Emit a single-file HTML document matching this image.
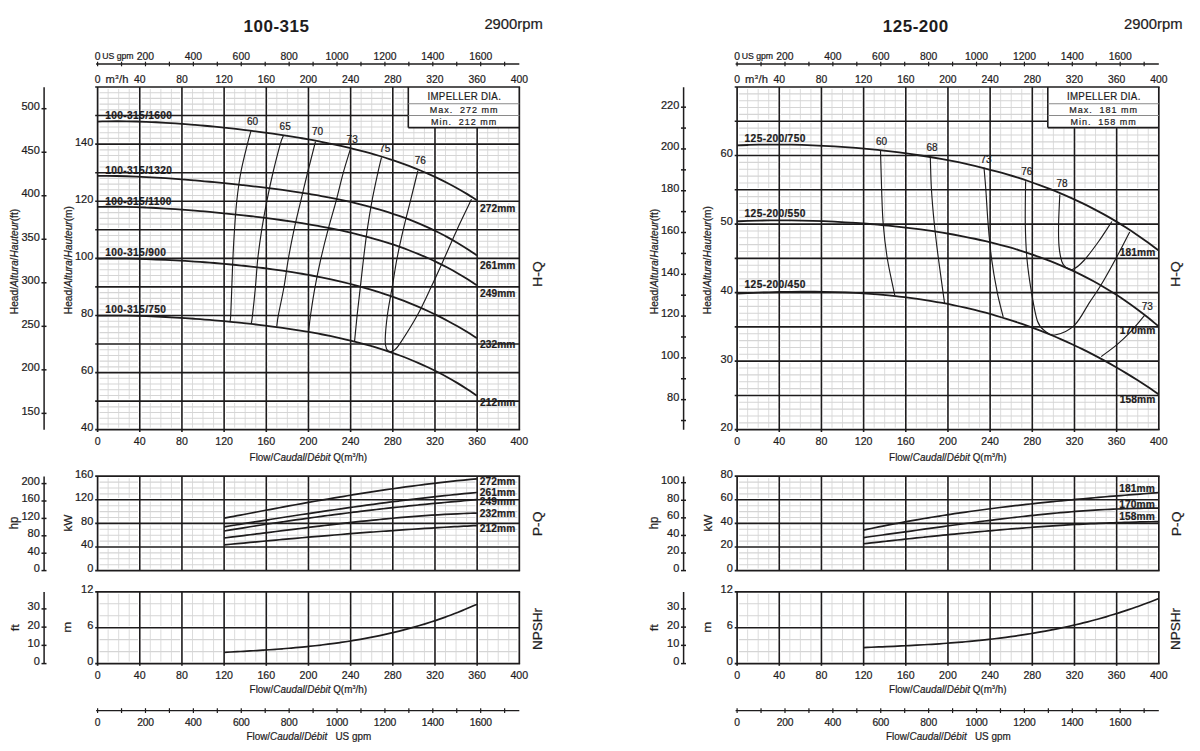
<!DOCTYPE html>
<html><head><meta charset="utf-8"><title>Pump curves</title>
<style>
html,body{margin:0;padding:0;background:#fff;}
body{width:1200px;height:751px;overflow:hidden;}
svg{display:block;}
text{font-family:"Liberation Sans", sans-serif;fill:#1e1c1d;stroke:#1e1c1d;stroke-width:0.22px;}
</style></head><body>
<svg width="1200" height="751" viewBox="0 0 1200 751">
<rect width="1200" height="751" fill="#fff"/>
<text x="243.6" y="32.2" font-size="17.0" text-anchor="start" font-weight="bold" letter-spacing="0.5" style="stroke-width:0">100-315</text>
<text x="484.4" y="29.4" font-size="14.8" text-anchor="start" font-weight="normal" >2900rpm</text>
<line x1="96.1" y1="64" x2="519.32" y2="64" stroke="#1e1c1d" stroke-width="1.4"/>
<line x1="97.6" y1="61.7" x2="97.6" y2="66.3" stroke="#1e1c1d" stroke-width="1.2"/>
<line x1="121.54" y1="61.7" x2="121.54" y2="66.3" stroke="#1e1c1d" stroke-width="1.2"/>
<line x1="145.49" y1="61.7" x2="145.49" y2="66.3" stroke="#1e1c1d" stroke-width="1.2"/>
<line x1="169.43" y1="61.7" x2="169.43" y2="66.3" stroke="#1e1c1d" stroke-width="1.2"/>
<line x1="193.37" y1="61.7" x2="193.37" y2="66.3" stroke="#1e1c1d" stroke-width="1.2"/>
<line x1="217.32" y1="61.7" x2="217.32" y2="66.3" stroke="#1e1c1d" stroke-width="1.2"/>
<line x1="241.26" y1="61.7" x2="241.26" y2="66.3" stroke="#1e1c1d" stroke-width="1.2"/>
<line x1="265.2" y1="61.7" x2="265.2" y2="66.3" stroke="#1e1c1d" stroke-width="1.2"/>
<line x1="289.15" y1="61.7" x2="289.15" y2="66.3" stroke="#1e1c1d" stroke-width="1.2"/>
<line x1="313.09" y1="61.7" x2="313.09" y2="66.3" stroke="#1e1c1d" stroke-width="1.2"/>
<line x1="337.03" y1="61.7" x2="337.03" y2="66.3" stroke="#1e1c1d" stroke-width="1.2"/>
<line x1="360.98" y1="61.7" x2="360.98" y2="66.3" stroke="#1e1c1d" stroke-width="1.2"/>
<line x1="384.92" y1="61.7" x2="384.92" y2="66.3" stroke="#1e1c1d" stroke-width="1.2"/>
<line x1="408.86" y1="61.7" x2="408.86" y2="66.3" stroke="#1e1c1d" stroke-width="1.2"/>
<line x1="432.81" y1="61.7" x2="432.81" y2="66.3" stroke="#1e1c1d" stroke-width="1.2"/>
<line x1="456.75" y1="61.7" x2="456.75" y2="66.3" stroke="#1e1c1d" stroke-width="1.2"/>
<line x1="480.69" y1="61.7" x2="480.69" y2="66.3" stroke="#1e1c1d" stroke-width="1.2"/>
<line x1="504.64" y1="61.7" x2="504.64" y2="66.3" stroke="#1e1c1d" stroke-width="1.2"/>
<text x="0" y="0" transform="translate(145.49,59.8) scale(0.96,1)" font-size="10.8" text-anchor="middle" font-weight="normal" >200</text>
<text x="0" y="0" transform="translate(193.37,59.8) scale(0.96,1)" font-size="10.8" text-anchor="middle" font-weight="normal" >400</text>
<text x="0" y="0" transform="translate(241.26,59.8) scale(0.96,1)" font-size="10.8" text-anchor="middle" font-weight="normal" >600</text>
<text x="0" y="0" transform="translate(289.15,59.8) scale(0.96,1)" font-size="10.8" text-anchor="middle" font-weight="normal" >800</text>
<text x="0" y="0" transform="translate(337.03,59.8) scale(0.96,1)" font-size="10.8" text-anchor="middle" font-weight="normal" >1000</text>
<text x="0" y="0" transform="translate(384.92,59.8) scale(0.96,1)" font-size="10.8" text-anchor="middle" font-weight="normal" >1200</text>
<text x="0" y="0" transform="translate(432.81,59.8) scale(0.96,1)" font-size="10.8" text-anchor="middle" font-weight="normal" >1400</text>
<text x="0" y="0" transform="translate(480.69,59.8) scale(0.96,1)" font-size="10.8" text-anchor="middle" font-weight="normal" >1600</text>
<text x="0" y="0" transform="translate(94.7,59.8) scale(0.96,1)" font-size="10.8" text-anchor="start" font-weight="normal" >0</text>
<text x="102.2" y="58.9" font-size="8.7" text-anchor="start" font-weight="normal" >US gpm</text>
<text x="0" y="0" transform="translate(94.7,83.2) scale(0.96,1)" font-size="10.8" text-anchor="start" font-weight="normal" >0</text>
<text x="105.4" y="83.2" font-size="11.2" text-anchor="start" font-weight="normal" >m<tspan font-size="6" dy="-4.5" dx="0.6">3</tspan><tspan dy="4.5" dx="0.4">/h</tspan></text>
<text x="0" y="0" transform="translate(139.77,83.2) scale(0.96,1)" font-size="10.8" text-anchor="middle" font-weight="normal" >40</text>
<text x="0" y="0" transform="translate(181.94,83.2) scale(0.96,1)" font-size="10.8" text-anchor="middle" font-weight="normal" >80</text>
<text x="0" y="0" transform="translate(224.12,83.2) scale(0.96,1)" font-size="10.8" text-anchor="middle" font-weight="normal" >120</text>
<text x="0" y="0" transform="translate(266.29,83.2) scale(0.96,1)" font-size="10.8" text-anchor="middle" font-weight="normal" >160</text>
<text x="0" y="0" transform="translate(308.46,83.2) scale(0.96,1)" font-size="10.8" text-anchor="middle" font-weight="normal" >200</text>
<text x="0" y="0" transform="translate(350.63,83.2) scale(0.96,1)" font-size="10.8" text-anchor="middle" font-weight="normal" >240</text>
<text x="0" y="0" transform="translate(392.8,83.2) scale(0.96,1)" font-size="10.8" text-anchor="middle" font-weight="normal" >280</text>
<text x="0" y="0" transform="translate(434.98,83.2) scale(0.96,1)" font-size="10.8" text-anchor="middle" font-weight="normal" >320</text>
<text x="0" y="0" transform="translate(477.15,83.2) scale(0.96,1)" font-size="10.8" text-anchor="middle" font-weight="normal" >360</text>
<text x="0" y="0" transform="translate(519.32,83.2) scale(0.96,1)" font-size="10.8" text-anchor="middle" font-weight="normal" >400</text>
<line x1="108.14" y1="89" x2="108.14" y2="427.7" stroke="#dcdcdc" stroke-width="1"/>
<line x1="118.69" y1="89" x2="118.69" y2="427.7" stroke="#dcdcdc" stroke-width="1"/>
<line x1="129.23" y1="89" x2="129.23" y2="427.7" stroke="#dcdcdc" stroke-width="1"/>
<line x1="150.31" y1="89" x2="150.31" y2="427.7" stroke="#dcdcdc" stroke-width="1"/>
<line x1="160.86" y1="89" x2="160.86" y2="427.7" stroke="#dcdcdc" stroke-width="1"/>
<line x1="171.4" y1="89" x2="171.4" y2="427.7" stroke="#dcdcdc" stroke-width="1"/>
<line x1="192.49" y1="89" x2="192.49" y2="427.7" stroke="#dcdcdc" stroke-width="1"/>
<line x1="203.03" y1="89" x2="203.03" y2="427.7" stroke="#dcdcdc" stroke-width="1"/>
<line x1="213.57" y1="89" x2="213.57" y2="427.7" stroke="#dcdcdc" stroke-width="1"/>
<line x1="234.66" y1="89" x2="234.66" y2="427.7" stroke="#dcdcdc" stroke-width="1"/>
<line x1="245.2" y1="89" x2="245.2" y2="427.7" stroke="#dcdcdc" stroke-width="1"/>
<line x1="255.75" y1="89" x2="255.75" y2="427.7" stroke="#dcdcdc" stroke-width="1"/>
<line x1="276.83" y1="89" x2="276.83" y2="427.7" stroke="#dcdcdc" stroke-width="1"/>
<line x1="287.37" y1="89" x2="287.37" y2="427.7" stroke="#dcdcdc" stroke-width="1"/>
<line x1="297.92" y1="89" x2="297.92" y2="427.7" stroke="#dcdcdc" stroke-width="1"/>
<line x1="319" y1="89" x2="319" y2="427.7" stroke="#dcdcdc" stroke-width="1"/>
<line x1="329.55" y1="89" x2="329.55" y2="427.7" stroke="#dcdcdc" stroke-width="1"/>
<line x1="340.09" y1="89" x2="340.09" y2="427.7" stroke="#dcdcdc" stroke-width="1"/>
<line x1="361.17" y1="89" x2="361.17" y2="427.7" stroke="#dcdcdc" stroke-width="1"/>
<line x1="371.72" y1="89" x2="371.72" y2="427.7" stroke="#dcdcdc" stroke-width="1"/>
<line x1="382.26" y1="89" x2="382.26" y2="427.7" stroke="#dcdcdc" stroke-width="1"/>
<line x1="403.35" y1="89" x2="403.35" y2="427.7" stroke="#dcdcdc" stroke-width="1"/>
<line x1="413.89" y1="89" x2="413.89" y2="427.7" stroke="#dcdcdc" stroke-width="1"/>
<line x1="424.43" y1="89" x2="424.43" y2="427.7" stroke="#dcdcdc" stroke-width="1"/>
<line x1="445.52" y1="89" x2="445.52" y2="427.7" stroke="#dcdcdc" stroke-width="1"/>
<line x1="456.06" y1="89" x2="456.06" y2="427.7" stroke="#dcdcdc" stroke-width="1"/>
<line x1="466.61" y1="89" x2="466.61" y2="427.7" stroke="#dcdcdc" stroke-width="1"/>
<line x1="487.69" y1="89" x2="487.69" y2="427.7" stroke="#dcdcdc" stroke-width="1"/>
<line x1="498.23" y1="89" x2="498.23" y2="427.7" stroke="#dcdcdc" stroke-width="1"/>
<line x1="508.78" y1="89" x2="508.78" y2="427.7" stroke="#dcdcdc" stroke-width="1"/>
<line x1="99.6" y1="423.99" x2="517.32" y2="423.99" stroke="#d5d5d5" stroke-width="1.1"/>
<line x1="99.6" y1="418.28" x2="517.32" y2="418.28" stroke="#d5d5d5" stroke-width="1.1"/>
<line x1="99.6" y1="412.56" x2="517.32" y2="412.56" stroke="#d5d5d5" stroke-width="1.1"/>
<line x1="99.6" y1="406.85" x2="517.32" y2="406.85" stroke="#d5d5d5" stroke-width="1.1"/>
<line x1="99.6" y1="395.43" x2="517.32" y2="395.43" stroke="#d5d5d5" stroke-width="1.1"/>
<line x1="99.6" y1="389.72" x2="517.32" y2="389.72" stroke="#d5d5d5" stroke-width="1.1"/>
<line x1="99.6" y1="384.01" x2="517.32" y2="384.01" stroke="#d5d5d5" stroke-width="1.1"/>
<line x1="99.6" y1="378.3" x2="517.32" y2="378.3" stroke="#d5d5d5" stroke-width="1.1"/>
<line x1="99.6" y1="366.87" x2="517.32" y2="366.87" stroke="#d5d5d5" stroke-width="1.1"/>
<line x1="99.6" y1="361.16" x2="517.32" y2="361.16" stroke="#d5d5d5" stroke-width="1.1"/>
<line x1="99.6" y1="355.45" x2="517.32" y2="355.45" stroke="#d5d5d5" stroke-width="1.1"/>
<line x1="99.6" y1="349.74" x2="517.32" y2="349.74" stroke="#d5d5d5" stroke-width="1.1"/>
<line x1="99.6" y1="338.31" x2="517.32" y2="338.31" stroke="#d5d5d5" stroke-width="1.1"/>
<line x1="99.6" y1="332.6" x2="517.32" y2="332.6" stroke="#d5d5d5" stroke-width="1.1"/>
<line x1="99.6" y1="326.89" x2="517.32" y2="326.89" stroke="#d5d5d5" stroke-width="1.1"/>
<line x1="99.6" y1="321.18" x2="517.32" y2="321.18" stroke="#d5d5d5" stroke-width="1.1"/>
<line x1="99.6" y1="309.75" x2="517.32" y2="309.75" stroke="#d5d5d5" stroke-width="1.1"/>
<line x1="99.6" y1="304.04" x2="517.32" y2="304.04" stroke="#d5d5d5" stroke-width="1.1"/>
<line x1="99.6" y1="298.33" x2="517.32" y2="298.33" stroke="#d5d5d5" stroke-width="1.1"/>
<line x1="99.6" y1="292.62" x2="517.32" y2="292.62" stroke="#d5d5d5" stroke-width="1.1"/>
<line x1="99.6" y1="281.2" x2="517.32" y2="281.2" stroke="#d5d5d5" stroke-width="1.1"/>
<line x1="99.6" y1="275.49" x2="517.32" y2="275.49" stroke="#d5d5d5" stroke-width="1.1"/>
<line x1="99.6" y1="269.77" x2="517.32" y2="269.77" stroke="#d5d5d5" stroke-width="1.1"/>
<line x1="99.6" y1="264.06" x2="517.32" y2="264.06" stroke="#d5d5d5" stroke-width="1.1"/>
<line x1="99.6" y1="252.64" x2="517.32" y2="252.64" stroke="#d5d5d5" stroke-width="1.1"/>
<line x1="99.6" y1="246.93" x2="517.32" y2="246.93" stroke="#d5d5d5" stroke-width="1.1"/>
<line x1="99.6" y1="241.22" x2="517.32" y2="241.22" stroke="#d5d5d5" stroke-width="1.1"/>
<line x1="99.6" y1="235.5" x2="517.32" y2="235.5" stroke="#d5d5d5" stroke-width="1.1"/>
<line x1="99.6" y1="224.08" x2="517.32" y2="224.08" stroke="#d5d5d5" stroke-width="1.1"/>
<line x1="99.6" y1="218.37" x2="517.32" y2="218.37" stroke="#d5d5d5" stroke-width="1.1"/>
<line x1="99.6" y1="212.66" x2="517.32" y2="212.66" stroke="#d5d5d5" stroke-width="1.1"/>
<line x1="99.6" y1="206.94" x2="517.32" y2="206.94" stroke="#d5d5d5" stroke-width="1.1"/>
<line x1="99.6" y1="195.52" x2="517.32" y2="195.52" stroke="#d5d5d5" stroke-width="1.1"/>
<line x1="99.6" y1="189.81" x2="517.32" y2="189.81" stroke="#d5d5d5" stroke-width="1.1"/>
<line x1="99.6" y1="184.1" x2="517.32" y2="184.1" stroke="#d5d5d5" stroke-width="1.1"/>
<line x1="99.6" y1="178.39" x2="517.32" y2="178.39" stroke="#d5d5d5" stroke-width="1.1"/>
<line x1="99.6" y1="166.96" x2="517.32" y2="166.96" stroke="#d5d5d5" stroke-width="1.1"/>
<line x1="99.6" y1="161.25" x2="517.32" y2="161.25" stroke="#d5d5d5" stroke-width="1.1"/>
<line x1="99.6" y1="155.54" x2="517.32" y2="155.54" stroke="#d5d5d5" stroke-width="1.1"/>
<line x1="99.6" y1="149.83" x2="517.32" y2="149.83" stroke="#d5d5d5" stroke-width="1.1"/>
<line x1="99.6" y1="138.41" x2="517.32" y2="138.41" stroke="#d5d5d5" stroke-width="1.1"/>
<line x1="99.6" y1="132.69" x2="517.32" y2="132.69" stroke="#d5d5d5" stroke-width="1.1"/>
<line x1="99.6" y1="126.98" x2="517.32" y2="126.98" stroke="#d5d5d5" stroke-width="1.1"/>
<line x1="99.6" y1="121.27" x2="517.32" y2="121.27" stroke="#d5d5d5" stroke-width="1.1"/>
<line x1="99.6" y1="109.85" x2="517.32" y2="109.85" stroke="#d5d5d5" stroke-width="1.1"/>
<line x1="99.6" y1="104.14" x2="517.32" y2="104.14" stroke="#d5d5d5" stroke-width="1.1"/>
<line x1="99.6" y1="98.42" x2="517.32" y2="98.42" stroke="#d5d5d5" stroke-width="1.1"/>
<line x1="99.6" y1="92.71" x2="517.32" y2="92.71" stroke="#d5d5d5" stroke-width="1.1"/>
<line x1="139.77" y1="87" x2="139.77" y2="429.7" stroke="#fff" stroke-width="3.6"/>
<line x1="181.94" y1="87" x2="181.94" y2="429.7" stroke="#fff" stroke-width="3.6"/>
<line x1="224.12" y1="87" x2="224.12" y2="429.7" stroke="#fff" stroke-width="3.6"/>
<line x1="266.29" y1="87" x2="266.29" y2="429.7" stroke="#fff" stroke-width="3.6"/>
<line x1="308.46" y1="87" x2="308.46" y2="429.7" stroke="#fff" stroke-width="3.6"/>
<line x1="350.63" y1="87" x2="350.63" y2="429.7" stroke="#fff" stroke-width="3.6"/>
<line x1="392.8" y1="87" x2="392.8" y2="429.7" stroke="#fff" stroke-width="3.6"/>
<line x1="434.98" y1="87" x2="434.98" y2="429.7" stroke="#fff" stroke-width="3.6"/>
<line x1="477.15" y1="87" x2="477.15" y2="429.7" stroke="#fff" stroke-width="3.6"/>
<line x1="97.6" y1="401.14" x2="519.32" y2="401.14" stroke="#fff" stroke-width="3.6"/>
<line x1="97.6" y1="372.58" x2="519.32" y2="372.58" stroke="#fff" stroke-width="3.6"/>
<line x1="97.6" y1="344.03" x2="519.32" y2="344.03" stroke="#fff" stroke-width="3.6"/>
<line x1="97.6" y1="315.47" x2="519.32" y2="315.47" stroke="#fff" stroke-width="3.6"/>
<line x1="97.6" y1="286.91" x2="519.32" y2="286.91" stroke="#fff" stroke-width="3.6"/>
<line x1="97.6" y1="258.35" x2="519.32" y2="258.35" stroke="#fff" stroke-width="3.6"/>
<line x1="97.6" y1="229.79" x2="519.32" y2="229.79" stroke="#fff" stroke-width="3.6"/>
<line x1="97.6" y1="201.23" x2="519.32" y2="201.23" stroke="#fff" stroke-width="3.6"/>
<line x1="97.6" y1="172.68" x2="519.32" y2="172.68" stroke="#fff" stroke-width="3.6"/>
<line x1="97.6" y1="144.12" x2="519.32" y2="144.12" stroke="#fff" stroke-width="3.6"/>
<line x1="97.6" y1="115.56" x2="519.32" y2="115.56" stroke="#fff" stroke-width="3.6"/>
<rect x="408.3" y="87" width="111.02" height="40.6" fill="#fff"/>
<line x1="139.77" y1="87" x2="139.77" y2="431.9" stroke="#1e1c1d" stroke-width="1.6"/>
<line x1="181.94" y1="87" x2="181.94" y2="431.9" stroke="#1e1c1d" stroke-width="1.6"/>
<line x1="224.12" y1="87" x2="224.12" y2="431.9" stroke="#1e1c1d" stroke-width="1.6"/>
<line x1="266.29" y1="87" x2="266.29" y2="431.9" stroke="#1e1c1d" stroke-width="1.6"/>
<line x1="308.46" y1="87" x2="308.46" y2="431.9" stroke="#1e1c1d" stroke-width="1.6"/>
<line x1="350.63" y1="87" x2="350.63" y2="431.9" stroke="#1e1c1d" stroke-width="1.6"/>
<line x1="392.8" y1="87" x2="392.8" y2="431.9" stroke="#1e1c1d" stroke-width="1.6"/>
<line x1="434.98" y1="127.6" x2="434.98" y2="431.9" stroke="#1e1c1d" stroke-width="1.6"/>
<line x1="477.15" y1="127.6" x2="477.15" y2="431.9" stroke="#1e1c1d" stroke-width="1.6"/>
<line x1="95.2" y1="401.14" x2="519.32" y2="401.14" stroke="#1e1c1d" stroke-width="1.6"/>
<line x1="95.2" y1="372.58" x2="519.32" y2="372.58" stroke="#1e1c1d" stroke-width="1.6"/>
<line x1="95.2" y1="344.03" x2="519.32" y2="344.03" stroke="#1e1c1d" stroke-width="1.6"/>
<line x1="95.2" y1="315.47" x2="519.32" y2="315.47" stroke="#1e1c1d" stroke-width="1.6"/>
<line x1="95.2" y1="286.91" x2="519.32" y2="286.91" stroke="#1e1c1d" stroke-width="1.6"/>
<line x1="95.2" y1="258.35" x2="519.32" y2="258.35" stroke="#1e1c1d" stroke-width="1.6"/>
<line x1="95.2" y1="229.79" x2="519.32" y2="229.79" stroke="#1e1c1d" stroke-width="1.6"/>
<line x1="95.2" y1="201.23" x2="519.32" y2="201.23" stroke="#1e1c1d" stroke-width="1.6"/>
<line x1="95.2" y1="172.68" x2="519.32" y2="172.68" stroke="#1e1c1d" stroke-width="1.6"/>
<line x1="95.2" y1="144.12" x2="519.32" y2="144.12" stroke="#1e1c1d" stroke-width="1.6"/>
<line x1="95.2" y1="115.56" x2="408.3" y2="115.56" stroke="#1e1c1d" stroke-width="1.6"/>
<line x1="97.6" y1="87" x2="97.6" y2="431.9" stroke="#1e1c1d" stroke-width="1.7"/>
<line x1="519.32" y1="87" x2="519.32" y2="429.7" stroke="#1e1c1d" stroke-width="1.7"/>
<line x1="95.2" y1="87" x2="520.12" y2="87" stroke="#1e1c1d" stroke-width="1.7"/>
<line x1="95.2" y1="429.7" x2="520.12" y2="429.7" stroke="#1e1c1d" stroke-width="1.7"/>
<line x1="408.3" y1="87" x2="408.3" y2="127.6" stroke="#1e1c1d" stroke-width="1.6"/>
<line x1="408.3" y1="127.6" x2="519.32" y2="127.6" stroke="#1e1c1d" stroke-width="1.6"/>
<line x1="408.3" y1="103.7" x2="519.32" y2="103.7" stroke="#8a8a8a" stroke-width="1.1"/>
<line x1="408.3" y1="115.5" x2="519.32" y2="115.5" stroke="#8a8a8a" stroke-width="1.1"/>
<text x="0" y="0" transform="translate(464.31,99.5) scale(0.9,1)" font-size="10.8" text-anchor="middle" font-weight="normal" letter-spacing="0.35">IMPELLER DIA.</text>
<text x="0" y="0" transform="translate(464.11,113) scale(0.94,1)" font-size="9.6" text-anchor="middle" font-weight="normal" letter-spacing="1.05">Max.&#160; 272 mm</text>
<text x="0" y="0" transform="translate(464.11,125.1) scale(0.94,1)" font-size="9.6" text-anchor="middle" font-weight="normal" letter-spacing="1.05">Min.&#160; 212 mm</text>
<line x1="44.1" y1="87.2" x2="44.1" y2="429.7" stroke="#1e1c1d" stroke-width="1.5"/>
<line x1="41.5" y1="413.36" x2="46.5" y2="413.36" stroke="#1e1c1d" stroke-width="1.5"/>
<text x="0" y="0" transform="translate(39.8,414.76) scale(0.95,1)" font-size="11.6" text-anchor="end" font-weight="normal" >150</text>
<line x1="41.5" y1="369.84" x2="46.5" y2="369.84" stroke="#1e1c1d" stroke-width="1.5"/>
<text x="0" y="0" transform="translate(39.8,371.24) scale(0.95,1)" font-size="11.6" text-anchor="end" font-weight="normal" >200</text>
<line x1="41.5" y1="326.32" x2="46.5" y2="326.32" stroke="#1e1c1d" stroke-width="1.5"/>
<text x="0" y="0" transform="translate(39.8,327.72) scale(0.95,1)" font-size="11.6" text-anchor="end" font-weight="normal" >250</text>
<line x1="41.5" y1="282.8" x2="46.5" y2="282.8" stroke="#1e1c1d" stroke-width="1.5"/>
<text x="0" y="0" transform="translate(39.8,284.2) scale(0.95,1)" font-size="11.6" text-anchor="end" font-weight="normal" >300</text>
<line x1="41.5" y1="239.27" x2="46.5" y2="239.27" stroke="#1e1c1d" stroke-width="1.5"/>
<text x="0" y="0" transform="translate(39.8,240.67) scale(0.95,1)" font-size="11.6" text-anchor="end" font-weight="normal" >350</text>
<line x1="41.5" y1="195.75" x2="46.5" y2="195.75" stroke="#1e1c1d" stroke-width="1.5"/>
<text x="0" y="0" transform="translate(39.8,197.15) scale(0.95,1)" font-size="11.6" text-anchor="end" font-weight="normal" >400</text>
<line x1="41.5" y1="152.23" x2="46.5" y2="152.23" stroke="#1e1c1d" stroke-width="1.5"/>
<text x="0" y="0" transform="translate(39.8,153.63) scale(0.95,1)" font-size="11.6" text-anchor="end" font-weight="normal" >450</text>
<line x1="41.5" y1="108.7" x2="46.5" y2="108.7" stroke="#1e1c1d" stroke-width="1.5"/>
<text x="0" y="0" transform="translate(39.8,110.1) scale(0.95,1)" font-size="11.6" text-anchor="end" font-weight="normal" >500</text>
<text x="0" y="0" transform="translate(93.3,431.1) scale(0.95,1)" font-size="11.6" text-anchor="end" font-weight="normal" >40</text>
<text x="0" y="0" transform="translate(93.3,373.98) scale(0.95,1)" font-size="11.6" text-anchor="end" font-weight="normal" >60</text>
<text x="0" y="0" transform="translate(93.3,316.87) scale(0.95,1)" font-size="11.6" text-anchor="end" font-weight="normal" >80</text>
<text x="0" y="0" transform="translate(93.3,259.75) scale(0.95,1)" font-size="11.6" text-anchor="end" font-weight="normal" >100</text>
<text x="0" y="0" transform="translate(93.3,202.63) scale(0.95,1)" font-size="11.6" text-anchor="end" font-weight="normal" >120</text>
<text x="0" y="0" transform="translate(93.3,145.52) scale(0.95,1)" font-size="11.6" text-anchor="end" font-weight="normal" >140</text>
<text x="0" y="0" font-size="10.2" transform="translate(18.4,314.2) rotate(-90)">Head/<tspan font-style="italic">Altura</tspan>/<tspan font-style="italic">Hauteur</tspan>(ft)</text>
<text x="0" y="0" font-size="10.2" transform="translate(71.9,314.2) rotate(-90)">Head/<tspan font-style="italic">Altura</tspan>/<tspan font-style="italic">Hauteur</tspan>(m)</text>
<text x="0" y="0" font-size="13.5" text-anchor="middle" transform="translate(541.73,274.1) rotate(-90) scale(1.05,1)" >H-Q</text>
<text x="0" y="0" transform="translate(97.6,444.5) scale(0.9,1)" font-size="11.8" text-anchor="middle" font-weight="normal" >0</text>
<text x="0" y="0" transform="translate(139.77,444.5) scale(0.9,1)" font-size="11.8" text-anchor="middle" font-weight="normal" >40</text>
<text x="0" y="0" transform="translate(181.94,444.5) scale(0.9,1)" font-size="11.8" text-anchor="middle" font-weight="normal" >80</text>
<text x="0" y="0" transform="translate(224.12,444.5) scale(0.9,1)" font-size="11.8" text-anchor="middle" font-weight="normal" >120</text>
<text x="0" y="0" transform="translate(266.29,444.5) scale(0.9,1)" font-size="11.8" text-anchor="middle" font-weight="normal" >160</text>
<text x="0" y="0" transform="translate(308.46,444.5) scale(0.9,1)" font-size="11.8" text-anchor="middle" font-weight="normal" >200</text>
<text x="0" y="0" transform="translate(350.63,444.5) scale(0.9,1)" font-size="11.8" text-anchor="middle" font-weight="normal" >240</text>
<text x="0" y="0" transform="translate(392.8,444.5) scale(0.9,1)" font-size="11.8" text-anchor="middle" font-weight="normal" >280</text>
<text x="0" y="0" transform="translate(434.98,444.5) scale(0.9,1)" font-size="11.8" text-anchor="middle" font-weight="normal" >320</text>
<text x="0" y="0" transform="translate(477.15,444.5) scale(0.9,1)" font-size="11.8" text-anchor="middle" font-weight="normal" >360</text>
<text x="0" y="0" transform="translate(519.32,444.5) scale(0.9,1)" font-size="11.8" text-anchor="middle" font-weight="normal" >400</text>
<text x="0" y="0" transform="translate(249.6,460.7) scale(0.9,1)" font-size="11.0">Flow/<tspan font-style="italic">Caudal</tspan>/<tspan font-style="italic">Débit</tspan> Q(m<tspan font-size="6" dy="-4">3</tspan><tspan dy="4">/h)</tspan></text>
<line x1="108.14" y1="478.2" x2="108.14" y2="568.6" stroke="#dcdcdc" stroke-width="1"/>
<line x1="118.69" y1="478.2" x2="118.69" y2="568.6" stroke="#dcdcdc" stroke-width="1"/>
<line x1="129.23" y1="478.2" x2="129.23" y2="568.6" stroke="#dcdcdc" stroke-width="1"/>
<line x1="150.31" y1="478.2" x2="150.31" y2="568.6" stroke="#dcdcdc" stroke-width="1"/>
<line x1="160.86" y1="478.2" x2="160.86" y2="568.6" stroke="#dcdcdc" stroke-width="1"/>
<line x1="171.4" y1="478.2" x2="171.4" y2="568.6" stroke="#dcdcdc" stroke-width="1"/>
<line x1="192.49" y1="478.2" x2="192.49" y2="568.6" stroke="#dcdcdc" stroke-width="1"/>
<line x1="203.03" y1="478.2" x2="203.03" y2="568.6" stroke="#dcdcdc" stroke-width="1"/>
<line x1="213.57" y1="478.2" x2="213.57" y2="568.6" stroke="#dcdcdc" stroke-width="1"/>
<line x1="234.66" y1="478.2" x2="234.66" y2="568.6" stroke="#dcdcdc" stroke-width="1"/>
<line x1="245.2" y1="478.2" x2="245.2" y2="568.6" stroke="#dcdcdc" stroke-width="1"/>
<line x1="255.75" y1="478.2" x2="255.75" y2="568.6" stroke="#dcdcdc" stroke-width="1"/>
<line x1="276.83" y1="478.2" x2="276.83" y2="568.6" stroke="#dcdcdc" stroke-width="1"/>
<line x1="287.37" y1="478.2" x2="287.37" y2="568.6" stroke="#dcdcdc" stroke-width="1"/>
<line x1="297.92" y1="478.2" x2="297.92" y2="568.6" stroke="#dcdcdc" stroke-width="1"/>
<line x1="319" y1="478.2" x2="319" y2="568.6" stroke="#dcdcdc" stroke-width="1"/>
<line x1="329.55" y1="478.2" x2="329.55" y2="568.6" stroke="#dcdcdc" stroke-width="1"/>
<line x1="340.09" y1="478.2" x2="340.09" y2="568.6" stroke="#dcdcdc" stroke-width="1"/>
<line x1="361.17" y1="478.2" x2="361.17" y2="568.6" stroke="#dcdcdc" stroke-width="1"/>
<line x1="371.72" y1="478.2" x2="371.72" y2="568.6" stroke="#dcdcdc" stroke-width="1"/>
<line x1="382.26" y1="478.2" x2="382.26" y2="568.6" stroke="#dcdcdc" stroke-width="1"/>
<line x1="403.35" y1="478.2" x2="403.35" y2="568.6" stroke="#dcdcdc" stroke-width="1"/>
<line x1="413.89" y1="478.2" x2="413.89" y2="568.6" stroke="#dcdcdc" stroke-width="1"/>
<line x1="424.43" y1="478.2" x2="424.43" y2="568.6" stroke="#dcdcdc" stroke-width="1"/>
<line x1="445.52" y1="478.2" x2="445.52" y2="568.6" stroke="#dcdcdc" stroke-width="1"/>
<line x1="456.06" y1="478.2" x2="456.06" y2="568.6" stroke="#dcdcdc" stroke-width="1"/>
<line x1="466.61" y1="478.2" x2="466.61" y2="568.6" stroke="#dcdcdc" stroke-width="1"/>
<line x1="487.69" y1="478.2" x2="487.69" y2="568.6" stroke="#dcdcdc" stroke-width="1"/>
<line x1="498.23" y1="478.2" x2="498.23" y2="568.6" stroke="#dcdcdc" stroke-width="1"/>
<line x1="508.78" y1="478.2" x2="508.78" y2="568.6" stroke="#dcdcdc" stroke-width="1"/>
<line x1="99.6" y1="482.1" x2="517.32" y2="482.1" stroke="#d5d5d5" stroke-width="1.1"/>
<line x1="99.6" y1="488" x2="517.32" y2="488" stroke="#d5d5d5" stroke-width="1.1"/>
<line x1="99.6" y1="493.9" x2="517.32" y2="493.9" stroke="#d5d5d5" stroke-width="1.1"/>
<line x1="99.6" y1="505.7" x2="517.32" y2="505.7" stroke="#d5d5d5" stroke-width="1.1"/>
<line x1="99.6" y1="511.6" x2="517.32" y2="511.6" stroke="#d5d5d5" stroke-width="1.1"/>
<line x1="99.6" y1="517.5" x2="517.32" y2="517.5" stroke="#d5d5d5" stroke-width="1.1"/>
<line x1="99.6" y1="529.3" x2="517.32" y2="529.3" stroke="#d5d5d5" stroke-width="1.1"/>
<line x1="99.6" y1="535.2" x2="517.32" y2="535.2" stroke="#d5d5d5" stroke-width="1.1"/>
<line x1="99.6" y1="541.1" x2="517.32" y2="541.1" stroke="#d5d5d5" stroke-width="1.1"/>
<line x1="99.6" y1="552.9" x2="517.32" y2="552.9" stroke="#d5d5d5" stroke-width="1.1"/>
<line x1="99.6" y1="558.8" x2="517.32" y2="558.8" stroke="#d5d5d5" stroke-width="1.1"/>
<line x1="99.6" y1="564.7" x2="517.32" y2="564.7" stroke="#d5d5d5" stroke-width="1.1"/>
<line x1="139.77" y1="476.2" x2="139.77" y2="570.6" stroke="#fff" stroke-width="3.6"/>
<line x1="181.94" y1="476.2" x2="181.94" y2="570.6" stroke="#fff" stroke-width="3.6"/>
<line x1="224.12" y1="476.2" x2="224.12" y2="570.6" stroke="#fff" stroke-width="3.6"/>
<line x1="266.29" y1="476.2" x2="266.29" y2="570.6" stroke="#fff" stroke-width="3.6"/>
<line x1="308.46" y1="476.2" x2="308.46" y2="570.6" stroke="#fff" stroke-width="3.6"/>
<line x1="350.63" y1="476.2" x2="350.63" y2="570.6" stroke="#fff" stroke-width="3.6"/>
<line x1="392.8" y1="476.2" x2="392.8" y2="570.6" stroke="#fff" stroke-width="3.6"/>
<line x1="434.98" y1="476.2" x2="434.98" y2="570.6" stroke="#fff" stroke-width="3.6"/>
<line x1="477.15" y1="476.2" x2="477.15" y2="570.6" stroke="#fff" stroke-width="3.6"/>
<line x1="97.6" y1="499.8" x2="519.32" y2="499.8" stroke="#fff" stroke-width="3.6"/>
<line x1="97.6" y1="523.4" x2="519.32" y2="523.4" stroke="#fff" stroke-width="3.6"/>
<line x1="97.6" y1="547" x2="519.32" y2="547" stroke="#fff" stroke-width="3.6"/>
<line x1="139.77" y1="476.2" x2="139.77" y2="570.6" stroke="#1e1c1d" stroke-width="1.6"/>
<line x1="181.94" y1="476.2" x2="181.94" y2="570.6" stroke="#1e1c1d" stroke-width="1.6"/>
<line x1="224.12" y1="476.2" x2="224.12" y2="570.6" stroke="#1e1c1d" stroke-width="1.6"/>
<line x1="266.29" y1="476.2" x2="266.29" y2="570.6" stroke="#1e1c1d" stroke-width="1.6"/>
<line x1="308.46" y1="476.2" x2="308.46" y2="570.6" stroke="#1e1c1d" stroke-width="1.6"/>
<line x1="350.63" y1="476.2" x2="350.63" y2="570.6" stroke="#1e1c1d" stroke-width="1.6"/>
<line x1="392.8" y1="476.2" x2="392.8" y2="570.6" stroke="#1e1c1d" stroke-width="1.6"/>
<line x1="434.98" y1="476.2" x2="434.98" y2="570.6" stroke="#1e1c1d" stroke-width="1.6"/>
<line x1="477.15" y1="476.2" x2="477.15" y2="570.6" stroke="#1e1c1d" stroke-width="1.6"/>
<line x1="95.2" y1="499.8" x2="519.32" y2="499.8" stroke="#1e1c1d" stroke-width="1.6"/>
<line x1="95.2" y1="523.4" x2="519.32" y2="523.4" stroke="#1e1c1d" stroke-width="1.6"/>
<line x1="95.2" y1="547" x2="519.32" y2="547" stroke="#1e1c1d" stroke-width="1.6"/>
<line x1="97.6" y1="476.2" x2="97.6" y2="570.6" stroke="#1e1c1d" stroke-width="1.7"/>
<line x1="519.32" y1="476.2" x2="519.32" y2="570.6" stroke="#1e1c1d" stroke-width="1.7"/>
<line x1="95.2" y1="476.2" x2="520.12" y2="476.2" stroke="#1e1c1d" stroke-width="1.7"/>
<line x1="95.2" y1="570.6" x2="520.12" y2="570.6" stroke="#1e1c1d" stroke-width="1.7"/>
<line x1="44.1" y1="476.4" x2="44.1" y2="570.6" stroke="#1e1c1d" stroke-width="1.5"/>
<line x1="41.5" y1="570.6" x2="46.5" y2="570.6" stroke="#1e1c1d" stroke-width="1.5"/>
<text x="0" y="0" transform="translate(39.8,572) scale(0.95,1)" font-size="11.6" text-anchor="end" font-weight="normal" >0</text>
<line x1="41.5" y1="553.2" x2="46.5" y2="553.2" stroke="#1e1c1d" stroke-width="1.5"/>
<text x="0" y="0" transform="translate(39.8,554.6) scale(0.95,1)" font-size="11.6" text-anchor="end" font-weight="normal" >40</text>
<line x1="41.5" y1="535.8" x2="46.5" y2="535.8" stroke="#1e1c1d" stroke-width="1.5"/>
<text x="0" y="0" transform="translate(39.8,537.2) scale(0.95,1)" font-size="11.6" text-anchor="end" font-weight="normal" >80</text>
<line x1="41.5" y1="518.4" x2="46.5" y2="518.4" stroke="#1e1c1d" stroke-width="1.5"/>
<text x="0" y="0" transform="translate(39.8,519.8) scale(0.95,1)" font-size="11.6" text-anchor="end" font-weight="normal" >120</text>
<line x1="41.5" y1="501" x2="46.5" y2="501" stroke="#1e1c1d" stroke-width="1.5"/>
<text x="0" y="0" transform="translate(39.8,502.4) scale(0.95,1)" font-size="11.6" text-anchor="end" font-weight="normal" >160</text>
<line x1="41.5" y1="483.6" x2="46.5" y2="483.6" stroke="#1e1c1d" stroke-width="1.5"/>
<text x="0" y="0" transform="translate(39.8,485) scale(0.95,1)" font-size="11.6" text-anchor="end" font-weight="normal" >200</text>
<text x="0" y="0" transform="translate(93.3,572) scale(0.95,1)" font-size="11.6" text-anchor="end" font-weight="normal" >0</text>
<text x="0" y="0" transform="translate(93.3,548.4) scale(0.95,1)" font-size="11.6" text-anchor="end" font-weight="normal" >40</text>
<text x="0" y="0" transform="translate(93.3,524.8) scale(0.95,1)" font-size="11.6" text-anchor="end" font-weight="normal" >80</text>
<text x="0" y="0" transform="translate(93.3,501.2) scale(0.95,1)" font-size="11.6" text-anchor="end" font-weight="normal" >120</text>
<text x="0" y="0" transform="translate(93.3,477.6) scale(0.95,1)" font-size="11.6" text-anchor="end" font-weight="normal" >160</text>
<text x="0" y="0" font-size="12" text-anchor="middle" transform="translate(18.34,523) rotate(-90) scale(0.95,1)" >hp</text>
<text x="0" y="0" font-size="11.5" text-anchor="middle" transform="translate(72.33,523.1) rotate(-90) scale(1.02,1)" >kW</text>
<text x="0" y="0" font-size="13.5" text-anchor="middle" transform="translate(542.33,523.8) rotate(-90) scale(1.03,1)" >P-Q</text>
<line x1="108.14" y1="593.8" x2="108.14" y2="661.6" stroke="#dcdcdc" stroke-width="1"/>
<line x1="118.69" y1="593.8" x2="118.69" y2="661.6" stroke="#dcdcdc" stroke-width="1"/>
<line x1="129.23" y1="593.8" x2="129.23" y2="661.6" stroke="#dcdcdc" stroke-width="1"/>
<line x1="150.31" y1="593.8" x2="150.31" y2="661.6" stroke="#dcdcdc" stroke-width="1"/>
<line x1="160.86" y1="593.8" x2="160.86" y2="661.6" stroke="#dcdcdc" stroke-width="1"/>
<line x1="171.4" y1="593.8" x2="171.4" y2="661.6" stroke="#dcdcdc" stroke-width="1"/>
<line x1="192.49" y1="593.8" x2="192.49" y2="661.6" stroke="#dcdcdc" stroke-width="1"/>
<line x1="203.03" y1="593.8" x2="203.03" y2="661.6" stroke="#dcdcdc" stroke-width="1"/>
<line x1="213.57" y1="593.8" x2="213.57" y2="661.6" stroke="#dcdcdc" stroke-width="1"/>
<line x1="234.66" y1="593.8" x2="234.66" y2="661.6" stroke="#dcdcdc" stroke-width="1"/>
<line x1="245.2" y1="593.8" x2="245.2" y2="661.6" stroke="#dcdcdc" stroke-width="1"/>
<line x1="255.75" y1="593.8" x2="255.75" y2="661.6" stroke="#dcdcdc" stroke-width="1"/>
<line x1="276.83" y1="593.8" x2="276.83" y2="661.6" stroke="#dcdcdc" stroke-width="1"/>
<line x1="287.37" y1="593.8" x2="287.37" y2="661.6" stroke="#dcdcdc" stroke-width="1"/>
<line x1="297.92" y1="593.8" x2="297.92" y2="661.6" stroke="#dcdcdc" stroke-width="1"/>
<line x1="319" y1="593.8" x2="319" y2="661.6" stroke="#dcdcdc" stroke-width="1"/>
<line x1="329.55" y1="593.8" x2="329.55" y2="661.6" stroke="#dcdcdc" stroke-width="1"/>
<line x1="340.09" y1="593.8" x2="340.09" y2="661.6" stroke="#dcdcdc" stroke-width="1"/>
<line x1="361.17" y1="593.8" x2="361.17" y2="661.6" stroke="#dcdcdc" stroke-width="1"/>
<line x1="371.72" y1="593.8" x2="371.72" y2="661.6" stroke="#dcdcdc" stroke-width="1"/>
<line x1="382.26" y1="593.8" x2="382.26" y2="661.6" stroke="#dcdcdc" stroke-width="1"/>
<line x1="403.35" y1="593.8" x2="403.35" y2="661.6" stroke="#dcdcdc" stroke-width="1"/>
<line x1="413.89" y1="593.8" x2="413.89" y2="661.6" stroke="#dcdcdc" stroke-width="1"/>
<line x1="424.43" y1="593.8" x2="424.43" y2="661.6" stroke="#dcdcdc" stroke-width="1"/>
<line x1="445.52" y1="593.8" x2="445.52" y2="661.6" stroke="#dcdcdc" stroke-width="1"/>
<line x1="456.06" y1="593.8" x2="456.06" y2="661.6" stroke="#dcdcdc" stroke-width="1"/>
<line x1="466.61" y1="593.8" x2="466.61" y2="661.6" stroke="#dcdcdc" stroke-width="1"/>
<line x1="487.69" y1="593.8" x2="487.69" y2="661.6" stroke="#dcdcdc" stroke-width="1"/>
<line x1="498.23" y1="593.8" x2="498.23" y2="661.6" stroke="#dcdcdc" stroke-width="1"/>
<line x1="508.78" y1="593.8" x2="508.78" y2="661.6" stroke="#dcdcdc" stroke-width="1"/>
<line x1="99.6" y1="603.77" x2="517.32" y2="603.77" stroke="#d5d5d5" stroke-width="1.1"/>
<line x1="99.6" y1="615.73" x2="517.32" y2="615.73" stroke="#d5d5d5" stroke-width="1.1"/>
<line x1="99.6" y1="639.67" x2="517.32" y2="639.67" stroke="#d5d5d5" stroke-width="1.1"/>
<line x1="99.6" y1="651.63" x2="517.32" y2="651.63" stroke="#d5d5d5" stroke-width="1.1"/>
<line x1="139.77" y1="591.8" x2="139.77" y2="663.6" stroke="#fff" stroke-width="3.6"/>
<line x1="181.94" y1="591.8" x2="181.94" y2="663.6" stroke="#fff" stroke-width="3.6"/>
<line x1="224.12" y1="591.8" x2="224.12" y2="663.6" stroke="#fff" stroke-width="3.6"/>
<line x1="266.29" y1="591.8" x2="266.29" y2="663.6" stroke="#fff" stroke-width="3.6"/>
<line x1="308.46" y1="591.8" x2="308.46" y2="663.6" stroke="#fff" stroke-width="3.6"/>
<line x1="350.63" y1="591.8" x2="350.63" y2="663.6" stroke="#fff" stroke-width="3.6"/>
<line x1="392.8" y1="591.8" x2="392.8" y2="663.6" stroke="#fff" stroke-width="3.6"/>
<line x1="434.98" y1="591.8" x2="434.98" y2="663.6" stroke="#fff" stroke-width="3.6"/>
<line x1="477.15" y1="591.8" x2="477.15" y2="663.6" stroke="#fff" stroke-width="3.6"/>
<line x1="97.6" y1="627.7" x2="519.32" y2="627.7" stroke="#fff" stroke-width="3.6"/>
<line x1="139.77" y1="591.8" x2="139.77" y2="665.8" stroke="#1e1c1d" stroke-width="1.6"/>
<line x1="181.94" y1="591.8" x2="181.94" y2="665.8" stroke="#1e1c1d" stroke-width="1.6"/>
<line x1="224.12" y1="591.8" x2="224.12" y2="665.8" stroke="#1e1c1d" stroke-width="1.6"/>
<line x1="266.29" y1="591.8" x2="266.29" y2="665.8" stroke="#1e1c1d" stroke-width="1.6"/>
<line x1="308.46" y1="591.8" x2="308.46" y2="665.8" stroke="#1e1c1d" stroke-width="1.6"/>
<line x1="350.63" y1="591.8" x2="350.63" y2="665.8" stroke="#1e1c1d" stroke-width="1.6"/>
<line x1="392.8" y1="591.8" x2="392.8" y2="665.8" stroke="#1e1c1d" stroke-width="1.6"/>
<line x1="434.98" y1="591.8" x2="434.98" y2="665.8" stroke="#1e1c1d" stroke-width="1.6"/>
<line x1="477.15" y1="591.8" x2="477.15" y2="665.8" stroke="#1e1c1d" stroke-width="1.6"/>
<line x1="95.2" y1="627.7" x2="519.32" y2="627.7" stroke="#1e1c1d" stroke-width="1.6"/>
<line x1="97.6" y1="591.8" x2="97.6" y2="665.8" stroke="#1e1c1d" stroke-width="1.7"/>
<line x1="519.32" y1="591.8" x2="519.32" y2="663.6" stroke="#1e1c1d" stroke-width="1.7"/>
<line x1="95.2" y1="591.8" x2="520.12" y2="591.8" stroke="#1e1c1d" stroke-width="1.7"/>
<line x1="95.2" y1="663.6" x2="520.12" y2="663.6" stroke="#1e1c1d" stroke-width="1.7"/>
<line x1="44.1" y1="592" x2="44.1" y2="663.6" stroke="#1e1c1d" stroke-width="1.5"/>
<line x1="41.5" y1="663.6" x2="46.5" y2="663.6" stroke="#1e1c1d" stroke-width="1.5"/>
<text x="0" y="0" transform="translate(39.8,665) scale(0.95,1)" font-size="11.6" text-anchor="end" font-weight="normal" >0</text>
<line x1="41.5" y1="645.36" x2="46.5" y2="645.36" stroke="#1e1c1d" stroke-width="1.5"/>
<text x="0" y="0" transform="translate(39.8,646.76) scale(0.95,1)" font-size="11.6" text-anchor="end" font-weight="normal" >10</text>
<line x1="41.5" y1="627.13" x2="46.5" y2="627.13" stroke="#1e1c1d" stroke-width="1.5"/>
<text x="0" y="0" transform="translate(39.8,628.53) scale(0.95,1)" font-size="11.6" text-anchor="end" font-weight="normal" >20</text>
<line x1="41.5" y1="608.89" x2="46.5" y2="608.89" stroke="#1e1c1d" stroke-width="1.5"/>
<text x="0" y="0" transform="translate(39.8,610.29) scale(0.95,1)" font-size="11.6" text-anchor="end" font-weight="normal" >30</text>
<text x="0" y="0" transform="translate(93.3,665) scale(0.95,1)" font-size="11.6" text-anchor="end" font-weight="normal" >0</text>
<text x="0" y="0" transform="translate(93.3,629.1) scale(0.95,1)" font-size="11.6" text-anchor="end" font-weight="normal" >6</text>
<text x="0" y="0" transform="translate(93.3,593.2) scale(0.95,1)" font-size="11.6" text-anchor="end" font-weight="normal" >12</text>
<text x="0" y="0" font-size="11.5" text-anchor="middle" transform="translate(18.62,627.7) rotate(-90) scale(1.12,1)" >ft</text>
<text x="0" y="0" font-size="11.5" text-anchor="middle" transform="translate(71.19,627.3) rotate(-90) scale(1.15,1)" >m</text>
<text x="0" y="0" font-size="13.5" text-anchor="middle" transform="translate(542.02,628.9) rotate(-90) scale(1.0,1)" >NPSHr</text>
<text x="0" y="0" transform="translate(97.6,679.3) scale(0.9,1)" font-size="11.8" text-anchor="middle" font-weight="normal" >0</text>
<text x="0" y="0" transform="translate(139.77,679.3) scale(0.9,1)" font-size="11.8" text-anchor="middle" font-weight="normal" >40</text>
<text x="0" y="0" transform="translate(181.94,679.3) scale(0.9,1)" font-size="11.8" text-anchor="middle" font-weight="normal" >80</text>
<text x="0" y="0" transform="translate(224.12,679.3) scale(0.9,1)" font-size="11.8" text-anchor="middle" font-weight="normal" >120</text>
<text x="0" y="0" transform="translate(266.29,679.3) scale(0.9,1)" font-size="11.8" text-anchor="middle" font-weight="normal" >160</text>
<text x="0" y="0" transform="translate(308.46,679.3) scale(0.9,1)" font-size="11.8" text-anchor="middle" font-weight="normal" >200</text>
<text x="0" y="0" transform="translate(350.63,679.3) scale(0.9,1)" font-size="11.8" text-anchor="middle" font-weight="normal" >240</text>
<text x="0" y="0" transform="translate(392.8,679.3) scale(0.9,1)" font-size="11.8" text-anchor="middle" font-weight="normal" >280</text>
<text x="0" y="0" transform="translate(434.98,679.3) scale(0.9,1)" font-size="11.8" text-anchor="middle" font-weight="normal" >320</text>
<text x="0" y="0" transform="translate(477.15,679.3) scale(0.9,1)" font-size="11.8" text-anchor="middle" font-weight="normal" >360</text>
<text x="0" y="0" transform="translate(519.32,679.3) scale(0.9,1)" font-size="11.8" text-anchor="middle" font-weight="normal" >400</text>
<text x="0" y="0" transform="translate(249.6,693) scale(0.9,1)" font-size="11.0">Flow/<tspan font-style="italic">Caudal</tspan>/<tspan font-style="italic">Débit</tspan> Q(m<tspan font-size="6" dy="-4">3</tspan><tspan dy="4">/h)</tspan></text>
<line x1="96.1" y1="710.6" x2="519.32" y2="710.6" stroke="#1e1c1d" stroke-width="1.4"/>
<line x1="97.6" y1="708.2" x2="97.6" y2="713" stroke="#1e1c1d" stroke-width="1.2"/>
<line x1="121.54" y1="708.2" x2="121.54" y2="713" stroke="#1e1c1d" stroke-width="1.2"/>
<line x1="145.49" y1="708.2" x2="145.49" y2="713" stroke="#1e1c1d" stroke-width="1.2"/>
<line x1="169.43" y1="708.2" x2="169.43" y2="713" stroke="#1e1c1d" stroke-width="1.2"/>
<line x1="193.37" y1="708.2" x2="193.37" y2="713" stroke="#1e1c1d" stroke-width="1.2"/>
<line x1="217.32" y1="708.2" x2="217.32" y2="713" stroke="#1e1c1d" stroke-width="1.2"/>
<line x1="241.26" y1="708.2" x2="241.26" y2="713" stroke="#1e1c1d" stroke-width="1.2"/>
<line x1="265.2" y1="708.2" x2="265.2" y2="713" stroke="#1e1c1d" stroke-width="1.2"/>
<line x1="289.15" y1="708.2" x2="289.15" y2="713" stroke="#1e1c1d" stroke-width="1.2"/>
<line x1="313.09" y1="708.2" x2="313.09" y2="713" stroke="#1e1c1d" stroke-width="1.2"/>
<line x1="337.03" y1="708.2" x2="337.03" y2="713" stroke="#1e1c1d" stroke-width="1.2"/>
<line x1="360.98" y1="708.2" x2="360.98" y2="713" stroke="#1e1c1d" stroke-width="1.2"/>
<line x1="384.92" y1="708.2" x2="384.92" y2="713" stroke="#1e1c1d" stroke-width="1.2"/>
<line x1="408.86" y1="708.2" x2="408.86" y2="713" stroke="#1e1c1d" stroke-width="1.2"/>
<line x1="432.81" y1="708.2" x2="432.81" y2="713" stroke="#1e1c1d" stroke-width="1.2"/>
<line x1="456.75" y1="708.2" x2="456.75" y2="713" stroke="#1e1c1d" stroke-width="1.2"/>
<line x1="480.69" y1="708.2" x2="480.69" y2="713" stroke="#1e1c1d" stroke-width="1.2"/>
<line x1="504.64" y1="708.2" x2="504.64" y2="713" stroke="#1e1c1d" stroke-width="1.2"/>
<text x="97.6" y="725.5" font-size="10.3" text-anchor="middle" font-weight="normal" letter-spacing="-0.2">0</text>
<text x="145.49" y="725.5" font-size="10.3" text-anchor="middle" font-weight="normal" letter-spacing="-0.2">200</text>
<text x="193.37" y="725.5" font-size="10.3" text-anchor="middle" font-weight="normal" letter-spacing="-0.2">400</text>
<text x="241.26" y="725.5" font-size="10.3" text-anchor="middle" font-weight="normal" letter-spacing="-0.2">600</text>
<text x="289.15" y="725.5" font-size="10.3" text-anchor="middle" font-weight="normal" letter-spacing="-0.2">800</text>
<text x="337.03" y="725.5" font-size="10.3" text-anchor="middle" font-weight="normal" letter-spacing="-0.2">1000</text>
<text x="384.92" y="725.5" font-size="10.3" text-anchor="middle" font-weight="normal" letter-spacing="-0.2">1200</text>
<text x="432.81" y="725.5" font-size="10.3" text-anchor="middle" font-weight="normal" letter-spacing="-0.2">1400</text>
<text x="480.69" y="725.5" font-size="10.3" text-anchor="middle" font-weight="normal" letter-spacing="-0.2">1600</text>
<text x="0" y="0" transform="translate(246.4,740.2) scale(0.9,1)" font-size="11.0">Flow/<tspan font-style="italic">Caudal</tspan>/<tspan font-style="italic">Débit</tspan>&#160;&#160; US gpm</text>
<text x="882.8" y="31.8" font-size="17.0" text-anchor="start" font-weight="bold" letter-spacing="0.5" style="stroke-width:0">125-200</text>
<text x="1124.1" y="29.3" font-size="14.8" text-anchor="start" font-weight="normal" >2900rpm</text>
<line x1="735.6" y1="64" x2="1158.82" y2="64" stroke="#1e1c1d" stroke-width="1.4"/>
<line x1="737.1" y1="61.7" x2="737.1" y2="66.3" stroke="#1e1c1d" stroke-width="1.2"/>
<line x1="761.04" y1="61.7" x2="761.04" y2="66.3" stroke="#1e1c1d" stroke-width="1.2"/>
<line x1="784.99" y1="61.7" x2="784.99" y2="66.3" stroke="#1e1c1d" stroke-width="1.2"/>
<line x1="808.93" y1="61.7" x2="808.93" y2="66.3" stroke="#1e1c1d" stroke-width="1.2"/>
<line x1="832.87" y1="61.7" x2="832.87" y2="66.3" stroke="#1e1c1d" stroke-width="1.2"/>
<line x1="856.82" y1="61.7" x2="856.82" y2="66.3" stroke="#1e1c1d" stroke-width="1.2"/>
<line x1="880.76" y1="61.7" x2="880.76" y2="66.3" stroke="#1e1c1d" stroke-width="1.2"/>
<line x1="904.7" y1="61.7" x2="904.7" y2="66.3" stroke="#1e1c1d" stroke-width="1.2"/>
<line x1="928.65" y1="61.7" x2="928.65" y2="66.3" stroke="#1e1c1d" stroke-width="1.2"/>
<line x1="952.59" y1="61.7" x2="952.59" y2="66.3" stroke="#1e1c1d" stroke-width="1.2"/>
<line x1="976.53" y1="61.7" x2="976.53" y2="66.3" stroke="#1e1c1d" stroke-width="1.2"/>
<line x1="1000.48" y1="61.7" x2="1000.48" y2="66.3" stroke="#1e1c1d" stroke-width="1.2"/>
<line x1="1024.42" y1="61.7" x2="1024.42" y2="66.3" stroke="#1e1c1d" stroke-width="1.2"/>
<line x1="1048.36" y1="61.7" x2="1048.36" y2="66.3" stroke="#1e1c1d" stroke-width="1.2"/>
<line x1="1072.31" y1="61.7" x2="1072.31" y2="66.3" stroke="#1e1c1d" stroke-width="1.2"/>
<line x1="1096.25" y1="61.7" x2="1096.25" y2="66.3" stroke="#1e1c1d" stroke-width="1.2"/>
<line x1="1120.19" y1="61.7" x2="1120.19" y2="66.3" stroke="#1e1c1d" stroke-width="1.2"/>
<line x1="1144.14" y1="61.7" x2="1144.14" y2="66.3" stroke="#1e1c1d" stroke-width="1.2"/>
<text x="0" y="0" transform="translate(784.99,59.8) scale(0.96,1)" font-size="10.8" text-anchor="middle" font-weight="normal" >200</text>
<text x="0" y="0" transform="translate(832.87,59.8) scale(0.96,1)" font-size="10.8" text-anchor="middle" font-weight="normal" >400</text>
<text x="0" y="0" transform="translate(880.76,59.8) scale(0.96,1)" font-size="10.8" text-anchor="middle" font-weight="normal" >600</text>
<text x="0" y="0" transform="translate(928.65,59.8) scale(0.96,1)" font-size="10.8" text-anchor="middle" font-weight="normal" >800</text>
<text x="0" y="0" transform="translate(976.53,59.8) scale(0.96,1)" font-size="10.8" text-anchor="middle" font-weight="normal" >1000</text>
<text x="0" y="0" transform="translate(1024.42,59.8) scale(0.96,1)" font-size="10.8" text-anchor="middle" font-weight="normal" >1200</text>
<text x="0" y="0" transform="translate(1072.31,59.8) scale(0.96,1)" font-size="10.8" text-anchor="middle" font-weight="normal" >1400</text>
<text x="0" y="0" transform="translate(1120.19,59.8) scale(0.96,1)" font-size="10.8" text-anchor="middle" font-weight="normal" >1600</text>
<text x="0" y="0" transform="translate(734.2,59.8) scale(0.96,1)" font-size="10.8" text-anchor="start" font-weight="normal" >0</text>
<text x="741.7" y="58.9" font-size="8.7" text-anchor="start" font-weight="normal" >US gpm</text>
<text x="0" y="0" transform="translate(734.2,83.2) scale(0.96,1)" font-size="10.8" text-anchor="start" font-weight="normal" >0</text>
<text x="744.9" y="83.2" font-size="11.2" text-anchor="start" font-weight="normal" >m<tspan font-size="6" dy="-4.5" dx="0.6">3</tspan><tspan dy="4.5" dx="0.4">/h</tspan></text>
<text x="0" y="0" transform="translate(779.27,83.2) scale(0.96,1)" font-size="10.8" text-anchor="middle" font-weight="normal" >40</text>
<text x="0" y="0" transform="translate(821.44,83.2) scale(0.96,1)" font-size="10.8" text-anchor="middle" font-weight="normal" >80</text>
<text x="0" y="0" transform="translate(863.62,83.2) scale(0.96,1)" font-size="10.8" text-anchor="middle" font-weight="normal" >120</text>
<text x="0" y="0" transform="translate(905.79,83.2) scale(0.96,1)" font-size="10.8" text-anchor="middle" font-weight="normal" >160</text>
<text x="0" y="0" transform="translate(947.96,83.2) scale(0.96,1)" font-size="10.8" text-anchor="middle" font-weight="normal" >200</text>
<text x="0" y="0" transform="translate(990.13,83.2) scale(0.96,1)" font-size="10.8" text-anchor="middle" font-weight="normal" >240</text>
<text x="0" y="0" transform="translate(1032.3,83.2) scale(0.96,1)" font-size="10.8" text-anchor="middle" font-weight="normal" >280</text>
<text x="0" y="0" transform="translate(1074.48,83.2) scale(0.96,1)" font-size="10.8" text-anchor="middle" font-weight="normal" >320</text>
<text x="0" y="0" transform="translate(1116.65,83.2) scale(0.96,1)" font-size="10.8" text-anchor="middle" font-weight="normal" >360</text>
<text x="0" y="0" transform="translate(1158.82,83.2) scale(0.96,1)" font-size="10.8" text-anchor="middle" font-weight="normal" >400</text>
<line x1="747.64" y1="89" x2="747.64" y2="427.7" stroke="#dcdcdc" stroke-width="1"/>
<line x1="758.19" y1="89" x2="758.19" y2="427.7" stroke="#dcdcdc" stroke-width="1"/>
<line x1="768.73" y1="89" x2="768.73" y2="427.7" stroke="#dcdcdc" stroke-width="1"/>
<line x1="789.82" y1="89" x2="789.82" y2="427.7" stroke="#dcdcdc" stroke-width="1"/>
<line x1="800.36" y1="89" x2="800.36" y2="427.7" stroke="#dcdcdc" stroke-width="1"/>
<line x1="810.9" y1="89" x2="810.9" y2="427.7" stroke="#dcdcdc" stroke-width="1"/>
<line x1="831.99" y1="89" x2="831.99" y2="427.7" stroke="#dcdcdc" stroke-width="1"/>
<line x1="842.53" y1="89" x2="842.53" y2="427.7" stroke="#dcdcdc" stroke-width="1"/>
<line x1="853.07" y1="89" x2="853.07" y2="427.7" stroke="#dcdcdc" stroke-width="1"/>
<line x1="874.16" y1="89" x2="874.16" y2="427.7" stroke="#dcdcdc" stroke-width="1"/>
<line x1="884.7" y1="89" x2="884.7" y2="427.7" stroke="#dcdcdc" stroke-width="1"/>
<line x1="895.25" y1="89" x2="895.25" y2="427.7" stroke="#dcdcdc" stroke-width="1"/>
<line x1="916.33" y1="89" x2="916.33" y2="427.7" stroke="#dcdcdc" stroke-width="1"/>
<line x1="926.87" y1="89" x2="926.87" y2="427.7" stroke="#dcdcdc" stroke-width="1"/>
<line x1="937.42" y1="89" x2="937.42" y2="427.7" stroke="#dcdcdc" stroke-width="1"/>
<line x1="958.5" y1="89" x2="958.5" y2="427.7" stroke="#dcdcdc" stroke-width="1"/>
<line x1="969.05" y1="89" x2="969.05" y2="427.7" stroke="#dcdcdc" stroke-width="1"/>
<line x1="979.59" y1="89" x2="979.59" y2="427.7" stroke="#dcdcdc" stroke-width="1"/>
<line x1="1000.67" y1="89" x2="1000.67" y2="427.7" stroke="#dcdcdc" stroke-width="1"/>
<line x1="1011.22" y1="89" x2="1011.22" y2="427.7" stroke="#dcdcdc" stroke-width="1"/>
<line x1="1021.76" y1="89" x2="1021.76" y2="427.7" stroke="#dcdcdc" stroke-width="1"/>
<line x1="1042.85" y1="89" x2="1042.85" y2="427.7" stroke="#dcdcdc" stroke-width="1"/>
<line x1="1053.39" y1="89" x2="1053.39" y2="427.7" stroke="#dcdcdc" stroke-width="1"/>
<line x1="1063.93" y1="89" x2="1063.93" y2="427.7" stroke="#dcdcdc" stroke-width="1"/>
<line x1="1085.02" y1="89" x2="1085.02" y2="427.7" stroke="#dcdcdc" stroke-width="1"/>
<line x1="1095.56" y1="89" x2="1095.56" y2="427.7" stroke="#dcdcdc" stroke-width="1"/>
<line x1="1106.11" y1="89" x2="1106.11" y2="427.7" stroke="#dcdcdc" stroke-width="1"/>
<line x1="1127.19" y1="89" x2="1127.19" y2="427.7" stroke="#dcdcdc" stroke-width="1"/>
<line x1="1137.73" y1="89" x2="1137.73" y2="427.7" stroke="#dcdcdc" stroke-width="1"/>
<line x1="1148.28" y1="89" x2="1148.28" y2="427.7" stroke="#dcdcdc" stroke-width="1"/>
<line x1="739.1" y1="422.85" x2="1156.82" y2="422.85" stroke="#d5d5d5" stroke-width="1.1"/>
<line x1="739.1" y1="415.99" x2="1156.82" y2="415.99" stroke="#d5d5d5" stroke-width="1.1"/>
<line x1="739.1" y1="409.14" x2="1156.82" y2="409.14" stroke="#d5d5d5" stroke-width="1.1"/>
<line x1="739.1" y1="402.28" x2="1156.82" y2="402.28" stroke="#d5d5d5" stroke-width="1.1"/>
<line x1="739.1" y1="388.58" x2="1156.82" y2="388.58" stroke="#d5d5d5" stroke-width="1.1"/>
<line x1="739.1" y1="381.72" x2="1156.82" y2="381.72" stroke="#d5d5d5" stroke-width="1.1"/>
<line x1="739.1" y1="374.87" x2="1156.82" y2="374.87" stroke="#d5d5d5" stroke-width="1.1"/>
<line x1="739.1" y1="368.01" x2="1156.82" y2="368.01" stroke="#d5d5d5" stroke-width="1.1"/>
<line x1="739.1" y1="354.31" x2="1156.82" y2="354.31" stroke="#d5d5d5" stroke-width="1.1"/>
<line x1="739.1" y1="347.45" x2="1156.82" y2="347.45" stroke="#d5d5d5" stroke-width="1.1"/>
<line x1="739.1" y1="340.6" x2="1156.82" y2="340.6" stroke="#d5d5d5" stroke-width="1.1"/>
<line x1="739.1" y1="333.74" x2="1156.82" y2="333.74" stroke="#d5d5d5" stroke-width="1.1"/>
<line x1="739.1" y1="320.04" x2="1156.82" y2="320.04" stroke="#d5d5d5" stroke-width="1.1"/>
<line x1="739.1" y1="313.18" x2="1156.82" y2="313.18" stroke="#d5d5d5" stroke-width="1.1"/>
<line x1="739.1" y1="306.33" x2="1156.82" y2="306.33" stroke="#d5d5d5" stroke-width="1.1"/>
<line x1="739.1" y1="299.47" x2="1156.82" y2="299.47" stroke="#d5d5d5" stroke-width="1.1"/>
<line x1="739.1" y1="285.77" x2="1156.82" y2="285.77" stroke="#d5d5d5" stroke-width="1.1"/>
<line x1="739.1" y1="278.91" x2="1156.82" y2="278.91" stroke="#d5d5d5" stroke-width="1.1"/>
<line x1="739.1" y1="272.06" x2="1156.82" y2="272.06" stroke="#d5d5d5" stroke-width="1.1"/>
<line x1="739.1" y1="265.2" x2="1156.82" y2="265.2" stroke="#d5d5d5" stroke-width="1.1"/>
<line x1="739.1" y1="251.5" x2="1156.82" y2="251.5" stroke="#d5d5d5" stroke-width="1.1"/>
<line x1="739.1" y1="244.64" x2="1156.82" y2="244.64" stroke="#d5d5d5" stroke-width="1.1"/>
<line x1="739.1" y1="237.79" x2="1156.82" y2="237.79" stroke="#d5d5d5" stroke-width="1.1"/>
<line x1="739.1" y1="230.93" x2="1156.82" y2="230.93" stroke="#d5d5d5" stroke-width="1.1"/>
<line x1="739.1" y1="217.23" x2="1156.82" y2="217.23" stroke="#d5d5d5" stroke-width="1.1"/>
<line x1="739.1" y1="210.37" x2="1156.82" y2="210.37" stroke="#d5d5d5" stroke-width="1.1"/>
<line x1="739.1" y1="203.52" x2="1156.82" y2="203.52" stroke="#d5d5d5" stroke-width="1.1"/>
<line x1="739.1" y1="196.66" x2="1156.82" y2="196.66" stroke="#d5d5d5" stroke-width="1.1"/>
<line x1="739.1" y1="182.96" x2="1156.82" y2="182.96" stroke="#d5d5d5" stroke-width="1.1"/>
<line x1="739.1" y1="176.1" x2="1156.82" y2="176.1" stroke="#d5d5d5" stroke-width="1.1"/>
<line x1="739.1" y1="169.25" x2="1156.82" y2="169.25" stroke="#d5d5d5" stroke-width="1.1"/>
<line x1="739.1" y1="162.39" x2="1156.82" y2="162.39" stroke="#d5d5d5" stroke-width="1.1"/>
<line x1="739.1" y1="148.69" x2="1156.82" y2="148.69" stroke="#d5d5d5" stroke-width="1.1"/>
<line x1="739.1" y1="141.83" x2="1156.82" y2="141.83" stroke="#d5d5d5" stroke-width="1.1"/>
<line x1="739.1" y1="134.98" x2="1156.82" y2="134.98" stroke="#d5d5d5" stroke-width="1.1"/>
<line x1="739.1" y1="128.12" x2="1156.82" y2="128.12" stroke="#d5d5d5" stroke-width="1.1"/>
<line x1="739.1" y1="114.42" x2="1156.82" y2="114.42" stroke="#d5d5d5" stroke-width="1.1"/>
<line x1="739.1" y1="107.56" x2="1156.82" y2="107.56" stroke="#d5d5d5" stroke-width="1.1"/>
<line x1="739.1" y1="100.71" x2="1156.82" y2="100.71" stroke="#d5d5d5" stroke-width="1.1"/>
<line x1="739.1" y1="93.85" x2="1156.82" y2="93.85" stroke="#d5d5d5" stroke-width="1.1"/>
<line x1="779.27" y1="87" x2="779.27" y2="429.7" stroke="#fff" stroke-width="3.6"/>
<line x1="821.44" y1="87" x2="821.44" y2="429.7" stroke="#fff" stroke-width="3.6"/>
<line x1="863.62" y1="87" x2="863.62" y2="429.7" stroke="#fff" stroke-width="3.6"/>
<line x1="905.79" y1="87" x2="905.79" y2="429.7" stroke="#fff" stroke-width="3.6"/>
<line x1="947.96" y1="87" x2="947.96" y2="429.7" stroke="#fff" stroke-width="3.6"/>
<line x1="990.13" y1="87" x2="990.13" y2="429.7" stroke="#fff" stroke-width="3.6"/>
<line x1="1032.3" y1="87" x2="1032.3" y2="429.7" stroke="#fff" stroke-width="3.6"/>
<line x1="1074.48" y1="87" x2="1074.48" y2="429.7" stroke="#fff" stroke-width="3.6"/>
<line x1="1116.65" y1="87" x2="1116.65" y2="429.7" stroke="#fff" stroke-width="3.6"/>
<line x1="737.1" y1="395.43" x2="1158.82" y2="395.43" stroke="#fff" stroke-width="3.6"/>
<line x1="737.1" y1="361.16" x2="1158.82" y2="361.16" stroke="#fff" stroke-width="3.6"/>
<line x1="737.1" y1="326.89" x2="1158.82" y2="326.89" stroke="#fff" stroke-width="3.6"/>
<line x1="737.1" y1="292.62" x2="1158.82" y2="292.62" stroke="#fff" stroke-width="3.6"/>
<line x1="737.1" y1="258.35" x2="1158.82" y2="258.35" stroke="#fff" stroke-width="3.6"/>
<line x1="737.1" y1="224.08" x2="1158.82" y2="224.08" stroke="#fff" stroke-width="3.6"/>
<line x1="737.1" y1="189.81" x2="1158.82" y2="189.81" stroke="#fff" stroke-width="3.6"/>
<line x1="737.1" y1="155.54" x2="1158.82" y2="155.54" stroke="#fff" stroke-width="3.6"/>
<line x1="737.1" y1="121.27" x2="1158.82" y2="121.27" stroke="#fff" stroke-width="3.6"/>
<rect x="1047.8" y="87" width="111.02" height="40.6" fill="#fff"/>
<line x1="779.27" y1="87" x2="779.27" y2="431.9" stroke="#1e1c1d" stroke-width="1.6"/>
<line x1="821.44" y1="87" x2="821.44" y2="431.9" stroke="#1e1c1d" stroke-width="1.6"/>
<line x1="863.62" y1="87" x2="863.62" y2="431.9" stroke="#1e1c1d" stroke-width="1.6"/>
<line x1="905.79" y1="87" x2="905.79" y2="431.9" stroke="#1e1c1d" stroke-width="1.6"/>
<line x1="947.96" y1="87" x2="947.96" y2="431.9" stroke="#1e1c1d" stroke-width="1.6"/>
<line x1="990.13" y1="87" x2="990.13" y2="431.9" stroke="#1e1c1d" stroke-width="1.6"/>
<line x1="1032.3" y1="87" x2="1032.3" y2="431.9" stroke="#1e1c1d" stroke-width="1.6"/>
<line x1="1074.48" y1="127.6" x2="1074.48" y2="431.9" stroke="#1e1c1d" stroke-width="1.6"/>
<line x1="1116.65" y1="127.6" x2="1116.65" y2="431.9" stroke="#1e1c1d" stroke-width="1.6"/>
<line x1="734.7" y1="395.43" x2="1158.82" y2="395.43" stroke="#1e1c1d" stroke-width="1.6"/>
<line x1="734.7" y1="361.16" x2="1158.82" y2="361.16" stroke="#1e1c1d" stroke-width="1.6"/>
<line x1="734.7" y1="326.89" x2="1158.82" y2="326.89" stroke="#1e1c1d" stroke-width="1.6"/>
<line x1="734.7" y1="292.62" x2="1158.82" y2="292.62" stroke="#1e1c1d" stroke-width="1.6"/>
<line x1="734.7" y1="258.35" x2="1158.82" y2="258.35" stroke="#1e1c1d" stroke-width="1.6"/>
<line x1="734.7" y1="224.08" x2="1158.82" y2="224.08" stroke="#1e1c1d" stroke-width="1.6"/>
<line x1="734.7" y1="189.81" x2="1158.82" y2="189.81" stroke="#1e1c1d" stroke-width="1.6"/>
<line x1="734.7" y1="155.54" x2="1158.82" y2="155.54" stroke="#1e1c1d" stroke-width="1.6"/>
<line x1="734.7" y1="121.27" x2="1047.8" y2="121.27" stroke="#1e1c1d" stroke-width="1.6"/>
<line x1="737.1" y1="87" x2="737.1" y2="431.9" stroke="#1e1c1d" stroke-width="1.7"/>
<line x1="1158.82" y1="87" x2="1158.82" y2="429.7" stroke="#1e1c1d" stroke-width="1.7"/>
<line x1="734.7" y1="87" x2="1159.62" y2="87" stroke="#1e1c1d" stroke-width="1.7"/>
<line x1="734.7" y1="429.7" x2="1159.62" y2="429.7" stroke="#1e1c1d" stroke-width="1.7"/>
<line x1="1047.8" y1="87" x2="1047.8" y2="127.6" stroke="#1e1c1d" stroke-width="1.6"/>
<line x1="1047.8" y1="127.6" x2="1158.82" y2="127.6" stroke="#1e1c1d" stroke-width="1.6"/>
<line x1="1047.8" y1="103.7" x2="1158.82" y2="103.7" stroke="#8a8a8a" stroke-width="1.1"/>
<line x1="1047.8" y1="115.5" x2="1158.82" y2="115.5" stroke="#8a8a8a" stroke-width="1.1"/>
<text x="0" y="0" transform="translate(1103.81,99.5) scale(0.9,1)" font-size="10.8" text-anchor="middle" font-weight="normal" letter-spacing="0.35">IMPELLER DIA.</text>
<text x="0" y="0" transform="translate(1103.61,113) scale(0.94,1)" font-size="9.6" text-anchor="middle" font-weight="normal" letter-spacing="1.05">Max.&#160; 181 mm</text>
<text x="0" y="0" transform="translate(1103.61,125.1) scale(0.94,1)" font-size="9.6" text-anchor="middle" font-weight="normal" letter-spacing="1.05">Min.&#160; 158 mm</text>
<line x1="683.6" y1="87.2" x2="683.6" y2="429.7" stroke="#1e1c1d" stroke-width="1.5"/>
<line x1="681" y1="420.54" x2="686" y2="420.54" stroke="#1e1c1d" stroke-width="1.5"/>
<line x1="681" y1="399.65" x2="686" y2="399.65" stroke="#1e1c1d" stroke-width="1.5"/>
<text x="0" y="0" transform="translate(679.3,401.05) scale(0.95,1)" font-size="11.6" text-anchor="end" font-weight="normal" >80</text>
<line x1="681" y1="378.76" x2="686" y2="378.76" stroke="#1e1c1d" stroke-width="1.5"/>
<line x1="681" y1="357.87" x2="686" y2="357.87" stroke="#1e1c1d" stroke-width="1.5"/>
<text x="0" y="0" transform="translate(679.3,359.27) scale(0.95,1)" font-size="11.6" text-anchor="end" font-weight="normal" >100</text>
<line x1="681" y1="336.98" x2="686" y2="336.98" stroke="#1e1c1d" stroke-width="1.5"/>
<line x1="681" y1="316.09" x2="686" y2="316.09" stroke="#1e1c1d" stroke-width="1.5"/>
<text x="0" y="0" transform="translate(679.3,317.49) scale(0.95,1)" font-size="11.6" text-anchor="end" font-weight="normal" >120</text>
<line x1="681" y1="295.2" x2="686" y2="295.2" stroke="#1e1c1d" stroke-width="1.5"/>
<line x1="681" y1="274.31" x2="686" y2="274.31" stroke="#1e1c1d" stroke-width="1.5"/>
<text x="0" y="0" transform="translate(679.3,275.71) scale(0.95,1)" font-size="11.6" text-anchor="end" font-weight="normal" >140</text>
<line x1="681" y1="253.42" x2="686" y2="253.42" stroke="#1e1c1d" stroke-width="1.5"/>
<line x1="681" y1="232.52" x2="686" y2="232.52" stroke="#1e1c1d" stroke-width="1.5"/>
<text x="0" y="0" transform="translate(679.3,233.92) scale(0.95,1)" font-size="11.6" text-anchor="end" font-weight="normal" >160</text>
<line x1="681" y1="211.63" x2="686" y2="211.63" stroke="#1e1c1d" stroke-width="1.5"/>
<line x1="681" y1="190.74" x2="686" y2="190.74" stroke="#1e1c1d" stroke-width="1.5"/>
<text x="0" y="0" transform="translate(679.3,192.14) scale(0.95,1)" font-size="11.6" text-anchor="end" font-weight="normal" >180</text>
<line x1="681" y1="169.85" x2="686" y2="169.85" stroke="#1e1c1d" stroke-width="1.5"/>
<line x1="681" y1="148.96" x2="686" y2="148.96" stroke="#1e1c1d" stroke-width="1.5"/>
<text x="0" y="0" transform="translate(679.3,150.36) scale(0.95,1)" font-size="11.6" text-anchor="end" font-weight="normal" >200</text>
<line x1="681" y1="128.07" x2="686" y2="128.07" stroke="#1e1c1d" stroke-width="1.5"/>
<line x1="681" y1="107.18" x2="686" y2="107.18" stroke="#1e1c1d" stroke-width="1.5"/>
<text x="0" y="0" transform="translate(679.3,108.58) scale(0.95,1)" font-size="11.6" text-anchor="end" font-weight="normal" >220</text>
<text x="0" y="0" transform="translate(732.8,431.1) scale(0.95,1)" font-size="11.6" text-anchor="end" font-weight="normal" >20</text>
<text x="0" y="0" transform="translate(732.8,362.56) scale(0.95,1)" font-size="11.6" text-anchor="end" font-weight="normal" >30</text>
<text x="0" y="0" transform="translate(732.8,294.02) scale(0.95,1)" font-size="11.6" text-anchor="end" font-weight="normal" >40</text>
<text x="0" y="0" transform="translate(732.8,225.48) scale(0.95,1)" font-size="11.6" text-anchor="end" font-weight="normal" >50</text>
<text x="0" y="0" transform="translate(732.8,156.94) scale(0.95,1)" font-size="11.6" text-anchor="end" font-weight="normal" >60</text>
<text x="0" y="0" font-size="10.2" transform="translate(657.9,314.2) rotate(-90)">Head/<tspan font-style="italic">Altura</tspan>/<tspan font-style="italic">Hauteur</tspan>(ft)</text>
<text x="0" y="0" font-size="10.2" transform="translate(711.4,314.2) rotate(-90)">Head/<tspan font-style="italic">Altura</tspan>/<tspan font-style="italic">Hauteur</tspan>(m)</text>
<text x="0" y="0" font-size="13.5" text-anchor="middle" transform="translate(1180.12,274.1) rotate(-90) scale(1.05,1)" >H-Q</text>
<text x="0" y="0" transform="translate(737.1,444.5) scale(0.9,1)" font-size="11.8" text-anchor="middle" font-weight="normal" >0</text>
<text x="0" y="0" transform="translate(779.27,444.5) scale(0.9,1)" font-size="11.8" text-anchor="middle" font-weight="normal" >40</text>
<text x="0" y="0" transform="translate(821.44,444.5) scale(0.9,1)" font-size="11.8" text-anchor="middle" font-weight="normal" >80</text>
<text x="0" y="0" transform="translate(863.62,444.5) scale(0.9,1)" font-size="11.8" text-anchor="middle" font-weight="normal" >120</text>
<text x="0" y="0" transform="translate(905.79,444.5) scale(0.9,1)" font-size="11.8" text-anchor="middle" font-weight="normal" >160</text>
<text x="0" y="0" transform="translate(947.96,444.5) scale(0.9,1)" font-size="11.8" text-anchor="middle" font-weight="normal" >200</text>
<text x="0" y="0" transform="translate(990.13,444.5) scale(0.9,1)" font-size="11.8" text-anchor="middle" font-weight="normal" >240</text>
<text x="0" y="0" transform="translate(1032.3,444.5) scale(0.9,1)" font-size="11.8" text-anchor="middle" font-weight="normal" >280</text>
<text x="0" y="0" transform="translate(1074.48,444.5) scale(0.9,1)" font-size="11.8" text-anchor="middle" font-weight="normal" >320</text>
<text x="0" y="0" transform="translate(1116.65,444.5) scale(0.9,1)" font-size="11.8" text-anchor="middle" font-weight="normal" >360</text>
<text x="0" y="0" transform="translate(1158.82,444.5) scale(0.9,1)" font-size="11.8" text-anchor="middle" font-weight="normal" >400</text>
<text x="0" y="0" transform="translate(889.1,460.7) scale(0.9,1)" font-size="11.0">Flow/<tspan font-style="italic">Caudal</tspan>/<tspan font-style="italic">Débit</tspan> Q(m<tspan font-size="6" dy="-4">3</tspan><tspan dy="4">/h)</tspan></text>
<line x1="747.64" y1="478.2" x2="747.64" y2="568.6" stroke="#dcdcdc" stroke-width="1"/>
<line x1="758.19" y1="478.2" x2="758.19" y2="568.6" stroke="#dcdcdc" stroke-width="1"/>
<line x1="768.73" y1="478.2" x2="768.73" y2="568.6" stroke="#dcdcdc" stroke-width="1"/>
<line x1="789.82" y1="478.2" x2="789.82" y2="568.6" stroke="#dcdcdc" stroke-width="1"/>
<line x1="800.36" y1="478.2" x2="800.36" y2="568.6" stroke="#dcdcdc" stroke-width="1"/>
<line x1="810.9" y1="478.2" x2="810.9" y2="568.6" stroke="#dcdcdc" stroke-width="1"/>
<line x1="831.99" y1="478.2" x2="831.99" y2="568.6" stroke="#dcdcdc" stroke-width="1"/>
<line x1="842.53" y1="478.2" x2="842.53" y2="568.6" stroke="#dcdcdc" stroke-width="1"/>
<line x1="853.07" y1="478.2" x2="853.07" y2="568.6" stroke="#dcdcdc" stroke-width="1"/>
<line x1="874.16" y1="478.2" x2="874.16" y2="568.6" stroke="#dcdcdc" stroke-width="1"/>
<line x1="884.7" y1="478.2" x2="884.7" y2="568.6" stroke="#dcdcdc" stroke-width="1"/>
<line x1="895.25" y1="478.2" x2="895.25" y2="568.6" stroke="#dcdcdc" stroke-width="1"/>
<line x1="916.33" y1="478.2" x2="916.33" y2="568.6" stroke="#dcdcdc" stroke-width="1"/>
<line x1="926.87" y1="478.2" x2="926.87" y2="568.6" stroke="#dcdcdc" stroke-width="1"/>
<line x1="937.42" y1="478.2" x2="937.42" y2="568.6" stroke="#dcdcdc" stroke-width="1"/>
<line x1="958.5" y1="478.2" x2="958.5" y2="568.6" stroke="#dcdcdc" stroke-width="1"/>
<line x1="969.05" y1="478.2" x2="969.05" y2="568.6" stroke="#dcdcdc" stroke-width="1"/>
<line x1="979.59" y1="478.2" x2="979.59" y2="568.6" stroke="#dcdcdc" stroke-width="1"/>
<line x1="1000.67" y1="478.2" x2="1000.67" y2="568.6" stroke="#dcdcdc" stroke-width="1"/>
<line x1="1011.22" y1="478.2" x2="1011.22" y2="568.6" stroke="#dcdcdc" stroke-width="1"/>
<line x1="1021.76" y1="478.2" x2="1021.76" y2="568.6" stroke="#dcdcdc" stroke-width="1"/>
<line x1="1042.85" y1="478.2" x2="1042.85" y2="568.6" stroke="#dcdcdc" stroke-width="1"/>
<line x1="1053.39" y1="478.2" x2="1053.39" y2="568.6" stroke="#dcdcdc" stroke-width="1"/>
<line x1="1063.93" y1="478.2" x2="1063.93" y2="568.6" stroke="#dcdcdc" stroke-width="1"/>
<line x1="1085.02" y1="478.2" x2="1085.02" y2="568.6" stroke="#dcdcdc" stroke-width="1"/>
<line x1="1095.56" y1="478.2" x2="1095.56" y2="568.6" stroke="#dcdcdc" stroke-width="1"/>
<line x1="1106.11" y1="478.2" x2="1106.11" y2="568.6" stroke="#dcdcdc" stroke-width="1"/>
<line x1="1127.19" y1="478.2" x2="1127.19" y2="568.6" stroke="#dcdcdc" stroke-width="1"/>
<line x1="1137.73" y1="478.2" x2="1137.73" y2="568.6" stroke="#dcdcdc" stroke-width="1"/>
<line x1="1148.28" y1="478.2" x2="1148.28" y2="568.6" stroke="#dcdcdc" stroke-width="1"/>
<line x1="739.1" y1="482.1" x2="1156.82" y2="482.1" stroke="#d5d5d5" stroke-width="1.1"/>
<line x1="739.1" y1="488" x2="1156.82" y2="488" stroke="#d5d5d5" stroke-width="1.1"/>
<line x1="739.1" y1="493.9" x2="1156.82" y2="493.9" stroke="#d5d5d5" stroke-width="1.1"/>
<line x1="739.1" y1="505.7" x2="1156.82" y2="505.7" stroke="#d5d5d5" stroke-width="1.1"/>
<line x1="739.1" y1="511.6" x2="1156.82" y2="511.6" stroke="#d5d5d5" stroke-width="1.1"/>
<line x1="739.1" y1="517.5" x2="1156.82" y2="517.5" stroke="#d5d5d5" stroke-width="1.1"/>
<line x1="739.1" y1="529.3" x2="1156.82" y2="529.3" stroke="#d5d5d5" stroke-width="1.1"/>
<line x1="739.1" y1="535.2" x2="1156.82" y2="535.2" stroke="#d5d5d5" stroke-width="1.1"/>
<line x1="739.1" y1="541.1" x2="1156.82" y2="541.1" stroke="#d5d5d5" stroke-width="1.1"/>
<line x1="739.1" y1="552.9" x2="1156.82" y2="552.9" stroke="#d5d5d5" stroke-width="1.1"/>
<line x1="739.1" y1="558.8" x2="1156.82" y2="558.8" stroke="#d5d5d5" stroke-width="1.1"/>
<line x1="739.1" y1="564.7" x2="1156.82" y2="564.7" stroke="#d5d5d5" stroke-width="1.1"/>
<line x1="779.27" y1="476.2" x2="779.27" y2="570.6" stroke="#fff" stroke-width="3.6"/>
<line x1="821.44" y1="476.2" x2="821.44" y2="570.6" stroke="#fff" stroke-width="3.6"/>
<line x1="863.62" y1="476.2" x2="863.62" y2="570.6" stroke="#fff" stroke-width="3.6"/>
<line x1="905.79" y1="476.2" x2="905.79" y2="570.6" stroke="#fff" stroke-width="3.6"/>
<line x1="947.96" y1="476.2" x2="947.96" y2="570.6" stroke="#fff" stroke-width="3.6"/>
<line x1="990.13" y1="476.2" x2="990.13" y2="570.6" stroke="#fff" stroke-width="3.6"/>
<line x1="1032.3" y1="476.2" x2="1032.3" y2="570.6" stroke="#fff" stroke-width="3.6"/>
<line x1="1074.48" y1="476.2" x2="1074.48" y2="570.6" stroke="#fff" stroke-width="3.6"/>
<line x1="1116.65" y1="476.2" x2="1116.65" y2="570.6" stroke="#fff" stroke-width="3.6"/>
<line x1="737.1" y1="499.8" x2="1158.82" y2="499.8" stroke="#fff" stroke-width="3.6"/>
<line x1="737.1" y1="523.4" x2="1158.82" y2="523.4" stroke="#fff" stroke-width="3.6"/>
<line x1="737.1" y1="547" x2="1158.82" y2="547" stroke="#fff" stroke-width="3.6"/>
<line x1="779.27" y1="476.2" x2="779.27" y2="570.6" stroke="#1e1c1d" stroke-width="1.6"/>
<line x1="821.44" y1="476.2" x2="821.44" y2="570.6" stroke="#1e1c1d" stroke-width="1.6"/>
<line x1="863.62" y1="476.2" x2="863.62" y2="570.6" stroke="#1e1c1d" stroke-width="1.6"/>
<line x1="905.79" y1="476.2" x2="905.79" y2="570.6" stroke="#1e1c1d" stroke-width="1.6"/>
<line x1="947.96" y1="476.2" x2="947.96" y2="570.6" stroke="#1e1c1d" stroke-width="1.6"/>
<line x1="990.13" y1="476.2" x2="990.13" y2="570.6" stroke="#1e1c1d" stroke-width="1.6"/>
<line x1="1032.3" y1="476.2" x2="1032.3" y2="570.6" stroke="#1e1c1d" stroke-width="1.6"/>
<line x1="1074.48" y1="476.2" x2="1074.48" y2="570.6" stroke="#1e1c1d" stroke-width="1.6"/>
<line x1="1116.65" y1="476.2" x2="1116.65" y2="570.6" stroke="#1e1c1d" stroke-width="1.6"/>
<line x1="734.7" y1="499.8" x2="1158.82" y2="499.8" stroke="#1e1c1d" stroke-width="1.6"/>
<line x1="734.7" y1="523.4" x2="1158.82" y2="523.4" stroke="#1e1c1d" stroke-width="1.6"/>
<line x1="734.7" y1="547" x2="1158.82" y2="547" stroke="#1e1c1d" stroke-width="1.6"/>
<line x1="737.1" y1="476.2" x2="737.1" y2="570.6" stroke="#1e1c1d" stroke-width="1.7"/>
<line x1="1158.82" y1="476.2" x2="1158.82" y2="570.6" stroke="#1e1c1d" stroke-width="1.7"/>
<line x1="734.7" y1="476.2" x2="1159.62" y2="476.2" stroke="#1e1c1d" stroke-width="1.7"/>
<line x1="734.7" y1="570.6" x2="1159.62" y2="570.6" stroke="#1e1c1d" stroke-width="1.7"/>
<line x1="683.6" y1="476.4" x2="683.6" y2="570.6" stroke="#1e1c1d" stroke-width="1.5"/>
<line x1="681" y1="570.6" x2="686" y2="570.6" stroke="#1e1c1d" stroke-width="1.5"/>
<text x="0" y="0" transform="translate(679.3,572) scale(0.95,1)" font-size="11.6" text-anchor="end" font-weight="normal" >0</text>
<line x1="681" y1="553.02" x2="686" y2="553.02" stroke="#1e1c1d" stroke-width="1.5"/>
<text x="0" y="0" transform="translate(679.3,554.42) scale(0.95,1)" font-size="11.6" text-anchor="end" font-weight="normal" >20</text>
<line x1="681" y1="535.44" x2="686" y2="535.44" stroke="#1e1c1d" stroke-width="1.5"/>
<text x="0" y="0" transform="translate(679.3,536.84) scale(0.95,1)" font-size="11.6" text-anchor="end" font-weight="normal" >40</text>
<line x1="681" y1="517.86" x2="686" y2="517.86" stroke="#1e1c1d" stroke-width="1.5"/>
<text x="0" y="0" transform="translate(679.3,519.26) scale(0.95,1)" font-size="11.6" text-anchor="end" font-weight="normal" >60</text>
<line x1="681" y1="500.28" x2="686" y2="500.28" stroke="#1e1c1d" stroke-width="1.5"/>
<text x="0" y="0" transform="translate(679.3,501.68) scale(0.95,1)" font-size="11.6" text-anchor="end" font-weight="normal" >80</text>
<line x1="681" y1="482.7" x2="686" y2="482.7" stroke="#1e1c1d" stroke-width="1.5"/>
<text x="0" y="0" transform="translate(679.3,484.1) scale(0.95,1)" font-size="11.6" text-anchor="end" font-weight="normal" >100</text>
<text x="0" y="0" transform="translate(732.8,572) scale(0.95,1)" font-size="11.6" text-anchor="end" font-weight="normal" >0</text>
<text x="0" y="0" transform="translate(732.8,548.4) scale(0.95,1)" font-size="11.6" text-anchor="end" font-weight="normal" >20</text>
<text x="0" y="0" transform="translate(732.8,524.8) scale(0.95,1)" font-size="11.6" text-anchor="end" font-weight="normal" >40</text>
<text x="0" y="0" transform="translate(732.8,501.2) scale(0.95,1)" font-size="11.6" text-anchor="end" font-weight="normal" >60</text>
<text x="0" y="0" transform="translate(732.8,477.6) scale(0.95,1)" font-size="11.6" text-anchor="end" font-weight="normal" >80</text>
<text x="0" y="0" font-size="12" text-anchor="middle" transform="translate(657.84,523) rotate(-90) scale(0.95,1)" >hp</text>
<text x="0" y="0" font-size="11.5" text-anchor="middle" transform="translate(711.82,523.1) rotate(-90) scale(1.02,1)" >kW</text>
<text x="0" y="0" font-size="13.5" text-anchor="middle" transform="translate(1180.72,523.8) rotate(-90) scale(1.03,1)" >P-Q</text>
<line x1="747.64" y1="593.8" x2="747.64" y2="661.6" stroke="#dcdcdc" stroke-width="1"/>
<line x1="758.19" y1="593.8" x2="758.19" y2="661.6" stroke="#dcdcdc" stroke-width="1"/>
<line x1="768.73" y1="593.8" x2="768.73" y2="661.6" stroke="#dcdcdc" stroke-width="1"/>
<line x1="789.82" y1="593.8" x2="789.82" y2="661.6" stroke="#dcdcdc" stroke-width="1"/>
<line x1="800.36" y1="593.8" x2="800.36" y2="661.6" stroke="#dcdcdc" stroke-width="1"/>
<line x1="810.9" y1="593.8" x2="810.9" y2="661.6" stroke="#dcdcdc" stroke-width="1"/>
<line x1="831.99" y1="593.8" x2="831.99" y2="661.6" stroke="#dcdcdc" stroke-width="1"/>
<line x1="842.53" y1="593.8" x2="842.53" y2="661.6" stroke="#dcdcdc" stroke-width="1"/>
<line x1="853.07" y1="593.8" x2="853.07" y2="661.6" stroke="#dcdcdc" stroke-width="1"/>
<line x1="874.16" y1="593.8" x2="874.16" y2="661.6" stroke="#dcdcdc" stroke-width="1"/>
<line x1="884.7" y1="593.8" x2="884.7" y2="661.6" stroke="#dcdcdc" stroke-width="1"/>
<line x1="895.25" y1="593.8" x2="895.25" y2="661.6" stroke="#dcdcdc" stroke-width="1"/>
<line x1="916.33" y1="593.8" x2="916.33" y2="661.6" stroke="#dcdcdc" stroke-width="1"/>
<line x1="926.87" y1="593.8" x2="926.87" y2="661.6" stroke="#dcdcdc" stroke-width="1"/>
<line x1="937.42" y1="593.8" x2="937.42" y2="661.6" stroke="#dcdcdc" stroke-width="1"/>
<line x1="958.5" y1="593.8" x2="958.5" y2="661.6" stroke="#dcdcdc" stroke-width="1"/>
<line x1="969.05" y1="593.8" x2="969.05" y2="661.6" stroke="#dcdcdc" stroke-width="1"/>
<line x1="979.59" y1="593.8" x2="979.59" y2="661.6" stroke="#dcdcdc" stroke-width="1"/>
<line x1="1000.67" y1="593.8" x2="1000.67" y2="661.6" stroke="#dcdcdc" stroke-width="1"/>
<line x1="1011.22" y1="593.8" x2="1011.22" y2="661.6" stroke="#dcdcdc" stroke-width="1"/>
<line x1="1021.76" y1="593.8" x2="1021.76" y2="661.6" stroke="#dcdcdc" stroke-width="1"/>
<line x1="1042.85" y1="593.8" x2="1042.85" y2="661.6" stroke="#dcdcdc" stroke-width="1"/>
<line x1="1053.39" y1="593.8" x2="1053.39" y2="661.6" stroke="#dcdcdc" stroke-width="1"/>
<line x1="1063.93" y1="593.8" x2="1063.93" y2="661.6" stroke="#dcdcdc" stroke-width="1"/>
<line x1="1085.02" y1="593.8" x2="1085.02" y2="661.6" stroke="#dcdcdc" stroke-width="1"/>
<line x1="1095.56" y1="593.8" x2="1095.56" y2="661.6" stroke="#dcdcdc" stroke-width="1"/>
<line x1="1106.11" y1="593.8" x2="1106.11" y2="661.6" stroke="#dcdcdc" stroke-width="1"/>
<line x1="1127.19" y1="593.8" x2="1127.19" y2="661.6" stroke="#dcdcdc" stroke-width="1"/>
<line x1="1137.73" y1="593.8" x2="1137.73" y2="661.6" stroke="#dcdcdc" stroke-width="1"/>
<line x1="1148.28" y1="593.8" x2="1148.28" y2="661.6" stroke="#dcdcdc" stroke-width="1"/>
<line x1="739.1" y1="603.77" x2="1156.82" y2="603.77" stroke="#d5d5d5" stroke-width="1.1"/>
<line x1="739.1" y1="615.73" x2="1156.82" y2="615.73" stroke="#d5d5d5" stroke-width="1.1"/>
<line x1="739.1" y1="639.67" x2="1156.82" y2="639.67" stroke="#d5d5d5" stroke-width="1.1"/>
<line x1="739.1" y1="651.63" x2="1156.82" y2="651.63" stroke="#d5d5d5" stroke-width="1.1"/>
<line x1="779.27" y1="591.8" x2="779.27" y2="663.6" stroke="#fff" stroke-width="3.6"/>
<line x1="821.44" y1="591.8" x2="821.44" y2="663.6" stroke="#fff" stroke-width="3.6"/>
<line x1="863.62" y1="591.8" x2="863.62" y2="663.6" stroke="#fff" stroke-width="3.6"/>
<line x1="905.79" y1="591.8" x2="905.79" y2="663.6" stroke="#fff" stroke-width="3.6"/>
<line x1="947.96" y1="591.8" x2="947.96" y2="663.6" stroke="#fff" stroke-width="3.6"/>
<line x1="990.13" y1="591.8" x2="990.13" y2="663.6" stroke="#fff" stroke-width="3.6"/>
<line x1="1032.3" y1="591.8" x2="1032.3" y2="663.6" stroke="#fff" stroke-width="3.6"/>
<line x1="1074.48" y1="591.8" x2="1074.48" y2="663.6" stroke="#fff" stroke-width="3.6"/>
<line x1="1116.65" y1="591.8" x2="1116.65" y2="663.6" stroke="#fff" stroke-width="3.6"/>
<line x1="737.1" y1="627.7" x2="1158.82" y2="627.7" stroke="#fff" stroke-width="3.6"/>
<line x1="779.27" y1="591.8" x2="779.27" y2="665.8" stroke="#1e1c1d" stroke-width="1.6"/>
<line x1="821.44" y1="591.8" x2="821.44" y2="665.8" stroke="#1e1c1d" stroke-width="1.6"/>
<line x1="863.62" y1="591.8" x2="863.62" y2="665.8" stroke="#1e1c1d" stroke-width="1.6"/>
<line x1="905.79" y1="591.8" x2="905.79" y2="665.8" stroke="#1e1c1d" stroke-width="1.6"/>
<line x1="947.96" y1="591.8" x2="947.96" y2="665.8" stroke="#1e1c1d" stroke-width="1.6"/>
<line x1="990.13" y1="591.8" x2="990.13" y2="665.8" stroke="#1e1c1d" stroke-width="1.6"/>
<line x1="1032.3" y1="591.8" x2="1032.3" y2="665.8" stroke="#1e1c1d" stroke-width="1.6"/>
<line x1="1074.48" y1="591.8" x2="1074.48" y2="665.8" stroke="#1e1c1d" stroke-width="1.6"/>
<line x1="1116.65" y1="591.8" x2="1116.65" y2="665.8" stroke="#1e1c1d" stroke-width="1.6"/>
<line x1="734.7" y1="627.7" x2="1158.82" y2="627.7" stroke="#1e1c1d" stroke-width="1.6"/>
<line x1="737.1" y1="591.8" x2="737.1" y2="665.8" stroke="#1e1c1d" stroke-width="1.7"/>
<line x1="1158.82" y1="591.8" x2="1158.82" y2="663.6" stroke="#1e1c1d" stroke-width="1.7"/>
<line x1="734.7" y1="591.8" x2="1159.62" y2="591.8" stroke="#1e1c1d" stroke-width="1.7"/>
<line x1="734.7" y1="663.6" x2="1159.62" y2="663.6" stroke="#1e1c1d" stroke-width="1.7"/>
<line x1="683.6" y1="592" x2="683.6" y2="663.6" stroke="#1e1c1d" stroke-width="1.5"/>
<line x1="681" y1="663.6" x2="686" y2="663.6" stroke="#1e1c1d" stroke-width="1.5"/>
<text x="0" y="0" transform="translate(679.3,665) scale(0.95,1)" font-size="11.6" text-anchor="end" font-weight="normal" >0</text>
<line x1="681" y1="645.36" x2="686" y2="645.36" stroke="#1e1c1d" stroke-width="1.5"/>
<text x="0" y="0" transform="translate(679.3,646.76) scale(0.95,1)" font-size="11.6" text-anchor="end" font-weight="normal" >10</text>
<line x1="681" y1="627.13" x2="686" y2="627.13" stroke="#1e1c1d" stroke-width="1.5"/>
<text x="0" y="0" transform="translate(679.3,628.53) scale(0.95,1)" font-size="11.6" text-anchor="end" font-weight="normal" >20</text>
<line x1="681" y1="608.89" x2="686" y2="608.89" stroke="#1e1c1d" stroke-width="1.5"/>
<text x="0" y="0" transform="translate(679.3,610.29) scale(0.95,1)" font-size="11.6" text-anchor="end" font-weight="normal" >30</text>
<text x="0" y="0" transform="translate(732.8,665) scale(0.95,1)" font-size="11.6" text-anchor="end" font-weight="normal" >0</text>
<text x="0" y="0" transform="translate(732.8,629.1) scale(0.95,1)" font-size="11.6" text-anchor="end" font-weight="normal" >6</text>
<text x="0" y="0" transform="translate(732.8,593.2) scale(0.95,1)" font-size="11.6" text-anchor="end" font-weight="normal" >12</text>
<text x="0" y="0" font-size="11.5" text-anchor="middle" transform="translate(658.12,627.7) rotate(-90) scale(1.12,1)" >ft</text>
<text x="0" y="0" font-size="11.5" text-anchor="middle" transform="translate(710.69,627.3) rotate(-90) scale(1.15,1)" >m</text>
<text x="0" y="0" font-size="13.5" text-anchor="middle" transform="translate(1180.42,628.9) rotate(-90) scale(1.0,1)" >NPSHr</text>
<text x="0" y="0" transform="translate(737.1,679.3) scale(0.9,1)" font-size="11.8" text-anchor="middle" font-weight="normal" >0</text>
<text x="0" y="0" transform="translate(779.27,679.3) scale(0.9,1)" font-size="11.8" text-anchor="middle" font-weight="normal" >40</text>
<text x="0" y="0" transform="translate(821.44,679.3) scale(0.9,1)" font-size="11.8" text-anchor="middle" font-weight="normal" >80</text>
<text x="0" y="0" transform="translate(863.62,679.3) scale(0.9,1)" font-size="11.8" text-anchor="middle" font-weight="normal" >120</text>
<text x="0" y="0" transform="translate(905.79,679.3) scale(0.9,1)" font-size="11.8" text-anchor="middle" font-weight="normal" >160</text>
<text x="0" y="0" transform="translate(947.96,679.3) scale(0.9,1)" font-size="11.8" text-anchor="middle" font-weight="normal" >200</text>
<text x="0" y="0" transform="translate(990.13,679.3) scale(0.9,1)" font-size="11.8" text-anchor="middle" font-weight="normal" >240</text>
<text x="0" y="0" transform="translate(1032.3,679.3) scale(0.9,1)" font-size="11.8" text-anchor="middle" font-weight="normal" >280</text>
<text x="0" y="0" transform="translate(1074.48,679.3) scale(0.9,1)" font-size="11.8" text-anchor="middle" font-weight="normal" >320</text>
<text x="0" y="0" transform="translate(1116.65,679.3) scale(0.9,1)" font-size="11.8" text-anchor="middle" font-weight="normal" >360</text>
<text x="0" y="0" transform="translate(1158.82,679.3) scale(0.9,1)" font-size="11.8" text-anchor="middle" font-weight="normal" >400</text>
<text x="0" y="0" transform="translate(889.1,693) scale(0.9,1)" font-size="11.0">Flow/<tspan font-style="italic">Caudal</tspan>/<tspan font-style="italic">Débit</tspan> Q(m<tspan font-size="6" dy="-4">3</tspan><tspan dy="4">/h)</tspan></text>
<line x1="735.6" y1="710.6" x2="1158.82" y2="710.6" stroke="#1e1c1d" stroke-width="1.4"/>
<line x1="737.1" y1="708.2" x2="737.1" y2="713" stroke="#1e1c1d" stroke-width="1.2"/>
<line x1="761.04" y1="708.2" x2="761.04" y2="713" stroke="#1e1c1d" stroke-width="1.2"/>
<line x1="784.99" y1="708.2" x2="784.99" y2="713" stroke="#1e1c1d" stroke-width="1.2"/>
<line x1="808.93" y1="708.2" x2="808.93" y2="713" stroke="#1e1c1d" stroke-width="1.2"/>
<line x1="832.87" y1="708.2" x2="832.87" y2="713" stroke="#1e1c1d" stroke-width="1.2"/>
<line x1="856.82" y1="708.2" x2="856.82" y2="713" stroke="#1e1c1d" stroke-width="1.2"/>
<line x1="880.76" y1="708.2" x2="880.76" y2="713" stroke="#1e1c1d" stroke-width="1.2"/>
<line x1="904.7" y1="708.2" x2="904.7" y2="713" stroke="#1e1c1d" stroke-width="1.2"/>
<line x1="928.65" y1="708.2" x2="928.65" y2="713" stroke="#1e1c1d" stroke-width="1.2"/>
<line x1="952.59" y1="708.2" x2="952.59" y2="713" stroke="#1e1c1d" stroke-width="1.2"/>
<line x1="976.53" y1="708.2" x2="976.53" y2="713" stroke="#1e1c1d" stroke-width="1.2"/>
<line x1="1000.48" y1="708.2" x2="1000.48" y2="713" stroke="#1e1c1d" stroke-width="1.2"/>
<line x1="1024.42" y1="708.2" x2="1024.42" y2="713" stroke="#1e1c1d" stroke-width="1.2"/>
<line x1="1048.36" y1="708.2" x2="1048.36" y2="713" stroke="#1e1c1d" stroke-width="1.2"/>
<line x1="1072.31" y1="708.2" x2="1072.31" y2="713" stroke="#1e1c1d" stroke-width="1.2"/>
<line x1="1096.25" y1="708.2" x2="1096.25" y2="713" stroke="#1e1c1d" stroke-width="1.2"/>
<line x1="1120.19" y1="708.2" x2="1120.19" y2="713" stroke="#1e1c1d" stroke-width="1.2"/>
<line x1="1144.14" y1="708.2" x2="1144.14" y2="713" stroke="#1e1c1d" stroke-width="1.2"/>
<text x="737.1" y="725.5" font-size="10.3" text-anchor="middle" font-weight="normal" letter-spacing="-0.2">0</text>
<text x="784.99" y="725.5" font-size="10.3" text-anchor="middle" font-weight="normal" letter-spacing="-0.2">200</text>
<text x="832.87" y="725.5" font-size="10.3" text-anchor="middle" font-weight="normal" letter-spacing="-0.2">400</text>
<text x="880.76" y="725.5" font-size="10.3" text-anchor="middle" font-weight="normal" letter-spacing="-0.2">600</text>
<text x="928.65" y="725.5" font-size="10.3" text-anchor="middle" font-weight="normal" letter-spacing="-0.2">800</text>
<text x="976.53" y="725.5" font-size="10.3" text-anchor="middle" font-weight="normal" letter-spacing="-0.2">1000</text>
<text x="1024.42" y="725.5" font-size="10.3" text-anchor="middle" font-weight="normal" letter-spacing="-0.2">1200</text>
<text x="1072.31" y="725.5" font-size="10.3" text-anchor="middle" font-weight="normal" letter-spacing="-0.2">1400</text>
<text x="1120.19" y="725.5" font-size="10.3" text-anchor="middle" font-weight="normal" letter-spacing="-0.2">1600</text>
<text x="0" y="0" transform="translate(885.9,740.2) scale(0.9,1)" font-size="11.0">Flow/<tspan font-style="italic">Caudal</tspan>/<tspan font-style="italic">Débit</tspan>&#160;&#160; US gpm</text>
<path d="M97.6,121.55 C100.84,121.47 104.09,121.37 107.33,121.31 C110.57,121.26 113.81,121.24 117.06,121.24 C120.3,121.24 123.54,121.26 126.78,121.3 C130.03,121.35 133.27,121.42 136.51,121.51 C139.76,121.59 143,121.7 146.24,121.83 C149.48,121.95 152.73,122.09 155.97,122.25 C159.21,122.41 162.45,122.59 165.7,122.78 C168.94,122.97 172.18,123.18 175.43,123.4 C178.67,123.62 181.91,123.86 185.15,124.11 C188.4,124.36 191.64,124.62 194.88,124.89 C198.12,125.16 201.37,125.45 204.61,125.75 C207.85,126.04 211.1,126.35 214.34,126.67 C217.58,126.99 220.82,127.33 224.07,127.67 C227.31,128.01 230.55,128.37 233.79,128.73 C237.04,129.1 240.28,129.47 243.52,129.86 C246.77,130.25 250.01,130.65 253.25,131.06 C256.49,131.47 259.74,131.9 262.98,132.34 C266.22,132.77 269.46,133.22 272.71,133.68 C275.95,134.15 279.19,134.62 282.44,135.12 C285.68,135.61 288.92,136.11 292.16,136.64 C295.41,137.16 298.65,137.7 301.89,138.25 C305.14,138.81 308.38,139.38 311.62,139.97 C314.86,140.57 318.11,141.18 321.35,141.81 C324.59,142.44 327.83,143.1 331.08,143.78 C334.32,144.45 337.56,145.15 340.81,145.88 C344.05,146.61 347.29,147.36 350.53,148.14 C353.78,148.92 357.02,149.73 360.26,150.57 C363.5,151.41 366.75,152.28 369.99,153.19 C373.23,154.09 376.48,155.03 379.72,156.01 C382.96,156.98 386.2,157.99 389.45,159.05 C392.69,160.1 395.93,161.2 399.17,162.34 C402.42,163.48 405.66,164.66 408.9,165.89 C412.15,167.12 415.39,168.39 418.63,169.73 C421.87,171.06 425.12,172.44 428.36,173.88 C431.6,175.32 434.84,176.81 438.09,178.37 C441.33,179.92 444.57,181.53 447.82,183.22 C451.06,184.9 454.3,186.64 457.54,188.46 C460.79,190.28 464.03,192.16 467.27,194.12 C470.51,196.09 473.76,198.2 477,200.24" fill="none" stroke="#1e1c1d" stroke-width="1.8" stroke-linejoin="round"/>
<path d="M97.6,175.92 C100.84,175.92 104.09,175.88 107.33,175.9 C110.57,175.91 113.81,175.95 117.06,176.01 C120.3,176.07 123.54,176.15 126.78,176.25 C130.03,176.35 133.27,176.47 136.51,176.6 C139.76,176.73 143,176.89 146.24,177.05 C149.48,177.21 152.73,177.4 155.97,177.59 C159.21,177.78 162.45,177.98 165.7,178.2 C168.94,178.42 172.18,178.65 175.43,178.88 C178.67,179.12 181.91,179.37 185.15,179.63 C188.4,179.88 191.64,180.15 194.88,180.43 C198.12,180.7 201.37,180.99 204.61,181.28 C207.85,181.57 211.1,181.87 214.34,182.18 C217.58,182.49 220.82,182.8 224.07,183.13 C227.31,183.45 230.55,183.78 233.79,184.12 C237.04,184.46 240.28,184.81 243.52,185.17 C246.77,185.53 250.01,185.9 253.25,186.27 C256.49,186.65 259.74,187.03 262.98,187.43 C266.22,187.83 269.46,188.23 272.71,188.65 C275.95,189.07 279.19,189.5 282.44,189.95 C285.68,190.39 288.92,190.85 292.16,191.32 C295.41,191.79 298.65,192.28 301.89,192.79 C305.14,193.29 308.38,193.81 311.62,194.36 C314.86,194.9 318.11,195.46 321.35,196.04 C324.59,196.63 327.83,197.23 331.08,197.86 C334.32,198.49 337.56,199.14 340.81,199.83 C344.05,200.51 347.29,201.22 350.53,201.96 C353.78,202.7 357.02,203.47 360.26,204.27 C363.5,205.08 366.75,205.92 369.99,206.8 C373.23,207.68 376.48,208.59 379.72,209.55 C382.96,210.51 386.2,211.5 389.45,212.55 C392.69,213.6 395.93,214.69 399.17,215.83 C402.42,216.98 405.66,218.17 408.9,219.42 C412.15,220.67 415.39,221.97 418.63,223.33 C421.87,224.7 425.12,226.12 428.36,227.61 C431.6,229.1 434.84,230.65 438.09,232.28 C441.33,233.91 444.57,235.6 447.82,237.38 C451.06,239.15 454.3,241 457.54,242.93 C460.79,244.86 464.03,246.87 467.27,248.98 C470.51,251.08 473.76,253.37 477,255.56" fill="none" stroke="#1e1c1d" stroke-width="1.8" stroke-linejoin="round"/>
<path d="M97.6,206.87 C100.84,206.83 104.09,206.76 107.33,206.74 C110.57,206.72 113.81,206.73 117.06,206.76 C120.3,206.78 123.54,206.83 126.78,206.9 C130.03,206.97 133.27,207.06 136.51,207.16 C139.76,207.27 143,207.39 146.24,207.53 C149.48,207.67 152.73,207.82 155.97,207.99 C159.21,208.16 162.45,208.34 165.7,208.54 C168.94,208.73 172.18,208.94 175.43,209.16 C178.67,209.38 181.91,209.62 185.15,209.86 C188.4,210.1 191.64,210.36 194.88,210.62 C198.12,210.89 201.37,211.16 204.61,211.45 C207.85,211.73 211.1,212.03 214.34,212.33 C217.58,212.64 220.82,212.95 224.07,213.28 C227.31,213.6 230.55,213.94 233.79,214.28 C237.04,214.62 240.28,214.98 243.52,215.34 C246.77,215.71 250.01,216.08 253.25,216.47 C256.49,216.85 259.74,217.25 262.98,217.66 C266.22,218.07 269.46,218.49 272.71,218.92 C275.95,219.36 279.19,219.8 282.44,220.26 C285.68,220.72 288.92,221.2 292.16,221.69 C295.41,222.18 298.65,222.69 301.89,223.21 C305.14,223.74 308.38,224.28 311.62,224.84 C314.86,225.41 318.11,225.99 321.35,226.59 C324.59,227.2 327.83,227.82 331.08,228.47 C334.32,229.12 337.56,229.79 340.81,230.49 C344.05,231.2 347.29,231.92 350.53,232.68 C353.78,233.44 357.02,234.22 360.26,235.04 C363.5,235.86 366.75,236.71 369.99,237.6 C373.23,238.49 376.48,239.41 379.72,240.38 C382.96,241.34 386.2,242.34 389.45,243.39 C392.69,244.44 395.93,245.53 399.17,246.66 C402.42,247.8 405.66,248.98 408.9,250.22 C412.15,251.46 415.39,252.74 418.63,254.08 C421.87,255.43 425.12,256.82 428.36,258.28 C431.6,259.74 434.84,261.26 438.09,262.84 C441.33,264.43 444.57,266.07 447.82,267.79 C451.06,269.51 454.3,271.3 457.54,273.17 C460.79,275.03 464.03,276.97 467.27,278.99 C470.51,281.01 473.76,283.2 477,285.3" fill="none" stroke="#1e1c1d" stroke-width="1.8" stroke-linejoin="round"/>
<path d="M97.6,258.55 C100.84,258.54 104.09,258.51 107.33,258.51 C110.57,258.51 113.81,258.53 117.06,258.55 C120.3,258.58 123.54,258.62 126.78,258.68 C130.03,258.73 133.27,258.8 136.51,258.88 C139.76,258.96 143,259.05 146.24,259.16 C149.48,259.26 152.73,259.38 155.97,259.5 C159.21,259.63 162.45,259.77 165.7,259.92 C168.94,260.07 172.18,260.23 175.43,260.4 C178.67,260.58 181.91,260.76 185.15,260.95 C188.4,261.15 191.64,261.36 194.88,261.57 C198.12,261.79 201.37,262.02 204.61,262.26 C207.85,262.5 211.1,262.76 214.34,263.02 C217.58,263.29 220.82,263.57 224.07,263.86 C227.31,264.15 230.55,264.45 233.79,264.77 C237.04,265.08 240.28,265.41 243.52,265.76 C246.77,266.1 250.01,266.46 253.25,266.84 C256.49,267.21 259.74,267.6 262.98,268.01 C266.22,268.41 269.46,268.83 272.71,269.28 C275.95,269.72 279.19,270.17 282.44,270.65 C285.68,271.13 288.92,271.62 292.16,272.14 C295.41,272.65 298.65,273.19 301.89,273.75 C305.14,274.31 308.38,274.89 311.62,275.49 C314.86,276.1 318.11,276.72 321.35,277.38 C324.59,278.03 327.83,278.71 331.08,279.42 C334.32,280.13 337.56,280.86 340.81,281.62 C344.05,282.39 347.29,283.18 350.53,284 C353.78,284.83 357.02,285.69 360.26,286.58 C363.5,287.47 366.75,288.39 369.99,289.36 C373.23,290.32 376.48,291.32 379.72,292.36 C382.96,293.4 386.2,294.47 389.45,295.59 C392.69,296.71 395.93,297.87 399.17,299.08 C402.42,300.29 405.66,301.54 408.9,302.84 C412.15,304.14 415.39,305.48 418.63,306.88 C421.87,308.28 425.12,309.73 428.36,311.23 C431.6,312.74 434.84,314.29 438.09,315.91 C441.33,317.53 444.57,319.2 447.82,320.93 C451.06,322.67 454.3,324.46 457.54,326.32 C460.79,328.18 464.03,330.1 467.27,332.1 C470.51,334.09 473.76,336.22 477,338.29" fill="none" stroke="#1e1c1d" stroke-width="1.8" stroke-linejoin="round"/>
<path d="M97.6,315.67 C100.84,315.63 104.09,315.57 107.33,315.54 C110.57,315.52 113.81,315.52 117.06,315.54 C120.3,315.56 123.54,315.59 126.78,315.64 C130.03,315.7 133.27,315.77 136.51,315.85 C139.76,315.94 143,316.04 146.24,316.15 C149.48,316.26 152.73,316.39 155.97,316.53 C159.21,316.68 162.45,316.83 165.7,317 C168.94,317.16 172.18,317.34 175.43,317.53 C178.67,317.72 181.91,317.92 185.15,318.13 C188.4,318.35 191.64,318.57 194.88,318.8 C198.12,319.04 201.37,319.28 204.61,319.54 C207.85,319.79 211.1,320.06 214.34,320.33 C217.58,320.61 220.82,320.89 224.07,321.19 C227.31,321.49 230.55,321.8 233.79,322.11 C237.04,322.43 240.28,322.76 243.52,323.11 C246.77,323.45 250.01,323.8 253.25,324.17 C256.49,324.54 259.74,324.92 262.98,325.31 C266.22,325.71 269.46,326.12 272.71,326.54 C275.95,326.97 279.19,327.4 282.44,327.86 C285.68,328.32 288.92,328.79 292.16,329.28 C295.41,329.77 298.65,330.28 301.89,330.81 C305.14,331.34 308.38,331.89 311.62,332.46 C314.86,333.03 318.11,333.63 321.35,334.25 C324.59,334.87 327.83,335.51 331.08,336.18 C334.32,336.85 337.56,337.55 340.81,338.28 C344.05,339.01 347.29,339.76 350.53,340.55 C353.78,341.34 357.02,342.16 360.26,343.02 C363.5,343.88 366.75,344.78 369.99,345.71 C373.23,346.64 376.48,347.61 379.72,348.63 C382.96,349.64 386.2,350.7 389.45,351.8 C392.69,352.91 395.93,354.05 399.17,355.25 C402.42,356.45 405.66,357.7 408.9,359 C412.15,360.3 415.39,361.66 418.63,363.07 C421.87,364.49 425.12,365.96 428.36,367.49 C431.6,369.03 434.84,370.62 438.09,372.29 C441.33,373.96 444.57,375.69 447.82,377.49 C451.06,379.3 454.3,381.17 457.54,383.12 C460.79,385.08 464.03,387.11 467.27,389.22 C470.51,391.33 473.76,393.61 477,395.81" fill="none" stroke="#1e1c1d" stroke-width="1.8" stroke-linejoin="round"/>
<path d="M251,130.9 C249.87,135.03 249.3,136.37 247.6,143.3 C245.9,150.23 242.6,162.92 240.8,172.5 C239,182.08 237.85,191.25 236.8,200.8 C235.75,210.35 235.15,220.18 234.5,229.8 C233.85,239.42 233.35,248.88 232.9,258.5 C232.45,268.12 232.17,278.02 231.8,287.5 C231.43,296.98 230.98,309.77 230.7,315.4 C230.42,321.03 230.3,319.33 230.1,321.3" fill="none" stroke="#1e1c1d" stroke-width="1.15" stroke-linejoin="round"/>
<path d="M283.4,135.8 C282.43,138.3 282.23,137.18 280.5,143.3 C278.77,149.42 275.27,162.92 273,172.5 C270.73,182.08 268.78,191.25 266.9,200.8 C265.02,210.35 263.22,220.18 261.7,229.8 C260.18,239.42 258.85,248.88 257.8,258.5 C256.75,268.12 256.28,278.02 255.4,287.5 C254.52,296.98 253.18,309.37 252.5,315.4 C251.82,321.43 251.7,320.93 251.3,323.7" fill="none" stroke="#1e1c1d" stroke-width="1.15" stroke-linejoin="round"/>
<path d="M315.5,141.5 C312.87,151.83 310.05,162.62 307.6,172.5 C305.15,182.38 303.07,191.25 300.8,200.8 C298.53,210.35 296.07,220.18 294,229.8 C291.93,239.42 290.08,248.88 288.4,258.5 C286.72,268.12 285.58,278.02 283.9,287.5 C282.22,296.98 279.5,308.87 278.3,315.4 C277.1,321.93 277.23,322.93 276.7,326.7" fill="none" stroke="#1e1c1d" stroke-width="1.15" stroke-linejoin="round"/>
<path d="M350.6,148.3 C348.17,156.4 345.73,163.77 343.3,172.6 C340.87,181.43 338.55,191.75 336,201.3 C333.45,210.85 330.5,220.42 328,229.9 C325.5,239.38 323.15,248.75 321,258.2 C318.85,267.65 316.85,277.05 315.1,286.6 C313.35,296.15 311.6,307.88 310.5,315.5 C309.4,323.12 309.17,326.7 308.5,332.3" fill="none" stroke="#1e1c1d" stroke-width="1.15" stroke-linejoin="round"/>
<path d="M381.5,157.3 C380.3,162.4 379.5,165.27 377.9,172.6 C376.3,179.93 373.68,191.75 371.9,201.3 C370.12,210.85 368.58,220.42 367.2,229.9 C365.82,239.38 364.73,248.75 363.6,258.2 C362.47,267.65 361.48,277.05 360.4,286.6 C359.32,296.15 358.08,306.27 357.1,315.5 C356.12,324.73 355.37,333.17 354.5,342" fill="none" stroke="#1e1c1d" stroke-width="1.15" stroke-linejoin="round"/>
<path d="M417.9,170.7 C415.37,180.9 412.75,191.43 410.3,201.3 C407.85,211.17 405.42,220.37 403.2,229.9 C400.98,239.43 398.82,249.07 397,258.5 C395.18,267.93 393.9,277.08 392.3,286.5 C390.7,295.92 388.58,306.08 387.4,315 C386.22,323.92 385.33,334.33 385.2,340 C385.07,345.67 385.8,347.08 386.6,349 C387.4,350.92 388.77,351.28 390,351.5 C391.23,351.72 392.35,351.62 394,350.3 C395.65,348.98 395.98,349.48 399.9,343.6 C403.82,337.72 412.25,324.52 417.5,315 C422.75,305.48 426.95,295.92 431.4,286.5 C435.85,277.08 439.95,267.93 444.2,258.5 C448.45,249.07 452.35,239.77 456.9,229.9 C461.45,220.03 466.63,209.5 471.5,199.3" fill="none" stroke="#1e1c1d" stroke-width="1.15" stroke-linejoin="round"/>
<text x="247" y="125.2" font-size="10" text-anchor="start" font-weight="normal" >60</text>
<text x="279.6" y="129.5" font-size="10" text-anchor="start" font-weight="normal" >65</text>
<text x="312" y="134.9" font-size="10" text-anchor="start" font-weight="normal" >70</text>
<text x="346.6" y="142.5" font-size="10" text-anchor="start" font-weight="normal" >73</text>
<text x="379.2" y="151.6" font-size="10" text-anchor="start" font-weight="normal" >75</text>
<text x="414.7" y="164.3" font-size="10" text-anchor="start" font-weight="normal" >76</text>
<text x="105.3" y="118.8" font-size="10.2" text-anchor="start" font-weight="bold" letter-spacing="0.35">100-315/1600</text>
<text x="105.3" y="174.4" font-size="10.2" text-anchor="start" font-weight="bold" letter-spacing="0.35">100-315/1320</text>
<text x="105.3" y="205" font-size="10.2" text-anchor="start" font-weight="bold" letter-spacing="0.35">100-315/1100</text>
<text x="105.3" y="256.3" font-size="10.2" text-anchor="start" font-weight="bold" letter-spacing="0.35">100-315/900</text>
<text x="105.3" y="312.6" font-size="10.2" text-anchor="start" font-weight="bold" letter-spacing="0.35">100-315/750</text>
<text x="479.9" y="211.5" font-size="10.2" text-anchor="start" font-weight="bold" letter-spacing="0.1">272mm</text>
<text x="479.9" y="268.5" font-size="10.2" text-anchor="start" font-weight="bold" letter-spacing="0.1">261mm</text>
<text x="479.9" y="296.7" font-size="10.2" text-anchor="start" font-weight="bold" letter-spacing="0.1">249mm</text>
<text x="479.9" y="348.3" font-size="10.2" text-anchor="start" font-weight="bold" letter-spacing="0.1">232mm</text>
<text x="479.9" y="405.8" font-size="10.2" text-anchor="start" font-weight="bold" letter-spacing="0.1">212mm</text>
<path d="M737.1,145.38 C740.7,145.25 744.3,145.09 747.9,144.98 C751.5,144.87 755.1,144.78 758.71,144.72 C762.31,144.66 765.91,144.61 769.51,144.59 C773.11,144.57 776.71,144.57 780.31,144.59 C783.91,144.61 787.51,144.66 791.11,144.72 C794.71,144.78 798.31,144.86 801.92,144.96 C805.52,145.06 809.12,145.18 812.72,145.32 C816.32,145.46 819.92,145.62 823.52,145.8 C827.12,145.98 830.72,146.18 834.32,146.4 C837.92,146.61 841.52,146.85 845.13,147.11 C848.73,147.36 852.33,147.64 855.93,147.93 C859.53,148.23 863.13,148.54 866.73,148.88 C870.33,149.21 873.93,149.57 877.53,149.94 C881.13,150.32 884.74,150.72 888.34,151.13 C891.94,151.55 895.54,151.99 899.14,152.45 C902.74,152.92 906.34,153.4 909.94,153.91 C913.54,154.42 917.14,154.95 920.74,155.5 C924.34,156.06 927.95,156.64 931.55,157.25 C935.15,157.86 938.75,158.49 942.35,159.15 C945.95,159.81 949.55,160.5 953.15,161.22 C956.75,161.93 960.35,162.68 963.95,163.46 C967.55,164.23 971.16,165.04 974.76,165.88 C978.36,166.73 981.96,167.6 985.56,168.51 C989.16,169.42 992.76,170.36 996.36,171.34 C999.96,172.33 1003.56,173.34 1007.16,174.4 C1010.76,175.46 1014.37,176.56 1017.97,177.7 C1021.57,178.84 1025.17,180.02 1028.77,181.25 C1032.37,182.48 1035.97,183.75 1039.57,185.07 C1043.17,186.39 1046.77,187.75 1050.37,189.17 C1053.98,190.59 1057.58,192.06 1061.18,193.58 C1064.78,195.11 1068.38,196.68 1071.98,198.32 C1075.58,199.95 1079.18,201.64 1082.78,203.39 C1086.38,205.14 1089.98,206.95 1093.58,208.83 C1097.19,210.71 1100.79,212.64 1104.39,214.65 C1107.99,216.66 1111.59,218.73 1115.19,220.88 C1118.79,223.03 1122.39,225.24 1125.99,227.54 C1129.59,229.84 1133.19,232.2 1136.79,234.65 C1140.4,237.1 1144,239.63 1147.6,242.25 C1151.2,244.86 1154.8,247.64 1158.4,250.34" fill="none" stroke="#1e1c1d" stroke-width="1.8" stroke-linejoin="round"/>
<path d="M737.1,221.36 C740.7,221.2 744.3,221.03 747.9,220.9 C751.5,220.77 755.1,220.66 758.71,220.58 C762.31,220.49 765.91,220.43 769.51,220.39 C773.11,220.35 776.71,220.33 780.31,220.33 C783.91,220.33 787.51,220.35 791.11,220.39 C794.71,220.42 798.31,220.48 801.92,220.55 C805.52,220.63 809.12,220.72 812.72,220.83 C816.32,220.94 819.92,221.07 823.52,221.21 C827.12,221.36 830.72,221.52 834.32,221.69 C837.92,221.87 841.52,222.07 845.13,222.28 C848.73,222.49 852.33,222.72 855.93,222.97 C859.53,223.21 863.13,223.48 866.73,223.76 C870.33,224.04 873.93,224.34 877.53,224.66 C881.13,224.98 884.74,225.31 888.34,225.67 C891.94,226.03 895.54,226.4 899.14,226.8 C902.74,227.2 906.34,227.62 909.94,228.06 C913.54,228.5 917.14,228.96 920.74,229.44 C924.34,229.93 927.95,230.44 931.55,230.97 C935.15,231.51 938.75,232.07 942.35,232.66 C945.95,233.24 949.55,233.86 953.15,234.5 C956.75,235.15 960.35,235.82 963.95,236.53 C967.55,237.24 971.16,237.97 974.76,238.75 C978.36,239.52 981.96,240.33 985.56,241.18 C989.16,242.02 992.76,242.91 996.36,243.83 C999.96,244.76 1003.56,245.72 1007.16,246.73 C1010.76,247.74 1014.37,248.79 1017.97,249.89 C1021.57,250.99 1025.17,252.14 1028.77,253.34 C1032.37,254.54 1035.97,255.78 1039.57,257.09 C1043.17,258.4 1046.77,259.75 1050.37,261.17 C1053.98,262.59 1057.58,264.07 1061.18,265.61 C1064.78,267.15 1068.38,268.75 1071.98,270.43 C1075.58,272.1 1079.18,273.84 1082.78,275.65 C1086.38,277.47 1089.98,279.35 1093.58,281.32 C1097.19,283.28 1100.79,285.32 1104.39,287.44 C1107.99,289.57 1111.59,291.77 1115.19,294.07 C1118.79,296.37 1122.39,298.74 1125.99,301.22 C1129.59,303.7 1133.19,306.27 1136.79,308.94 C1140.4,311.61 1144,314.38 1147.6,317.25 C1151.2,320.13 1154.8,323.22 1158.4,326.2" fill="none" stroke="#1e1c1d" stroke-width="1.8" stroke-linejoin="round"/>
<path d="M737.1,293.5 C740.7,293.35 744.3,293.18 747.91,293.04 C751.51,292.89 755.11,292.75 758.71,292.63 C762.31,292.5 765.91,292.38 769.52,292.28 C773.12,292.17 776.72,292.08 780.32,292 C783.92,291.93 787.52,291.86 791.13,291.82 C794.73,291.77 798.33,291.73 801.93,291.72 C805.53,291.7 809.13,291.7 812.74,291.72 C816.34,291.75 819.94,291.78 823.54,291.84 C827.14,291.9 830.74,291.98 834.35,292.08 C837.95,292.18 841.55,292.3 845.15,292.45 C848.75,292.59 852.35,292.76 855.96,292.95 C859.56,293.14 863.16,293.36 866.76,293.6 C870.36,293.84 873.96,294.11 877.57,294.41 C881.17,294.7 884.77,295.02 888.37,295.38 C891.97,295.73 895.58,296.11 899.18,296.52 C902.78,296.92 906.38,297.36 909.98,297.83 C913.58,298.31 917.19,298.81 920.79,299.34 C924.39,299.88 927.99,300.44 931.59,301.04 C935.19,301.64 938.8,302.28 942.4,302.95 C946,303.62 949.6,304.32 953.2,305.06 C956.8,305.8 960.41,306.58 964.01,307.39 C967.61,308.21 971.21,309.06 974.81,309.95 C978.41,310.84 982.02,311.77 985.62,312.74 C989.22,313.71 992.82,314.72 996.42,315.77 C1000.02,316.82 1003.63,317.91 1007.23,319.04 C1010.83,320.18 1014.43,321.35 1018.03,322.57 C1021.64,323.79 1025.24,325.05 1028.84,326.35 C1032.44,327.66 1036.04,329.01 1039.64,330.41 C1043.25,331.8 1046.85,333.24 1050.45,334.73 C1054.05,336.22 1057.65,337.75 1061.25,339.33 C1064.86,340.91 1068.46,342.54 1072.06,344.22 C1075.66,345.9 1079.26,347.62 1082.86,349.4 C1086.47,351.17 1090.07,352.99 1093.67,354.87 C1097.27,356.74 1100.87,358.67 1104.47,360.64 C1108.08,362.62 1111.68,364.65 1115.28,366.73 C1118.88,368.81 1122.48,370.94 1126.08,373.12 C1129.69,375.31 1133.29,377.54 1136.89,379.83 C1140.49,382.13 1144.09,384.47 1147.69,386.87 C1151.3,389.27 1154.9,391.78 1158.5,394.24" fill="none" stroke="#1e1c1d" stroke-width="1.8" stroke-linejoin="round"/>
<path d="M880.5,150 C880.87,163 881.15,176.7 881.6,189 C882.05,201.3 882.25,212.22 883.2,223.8 C884.15,235.38 885.37,246.55 887.3,258.5 C889.23,270.45 892.3,283.17 894.8,295.5" fill="none" stroke="#1e1c1d" stroke-width="1.15" stroke-linejoin="round"/>
<path d="M930.3,157 C930.67,167.57 930.73,177.57 931.4,188.7 C932.07,199.83 933.13,212.17 934.3,223.8 C935.47,235.43 936.68,245.22 938.4,258.5 C940.12,271.78 942.53,288.5 944.6,303.5" fill="none" stroke="#1e1c1d" stroke-width="1.15" stroke-linejoin="round"/>
<path d="M984,167.5 C984.6,174.67 985.12,179.62 985.8,189 C986.48,198.38 987.15,212.25 988.1,223.8 C989.05,235.35 989.97,246.83 991.5,258.3 C993.03,269.77 995.35,282.82 997.3,292.6 C999.25,302.38 1001.23,308.87 1003.2,317" fill="none" stroke="#1e1c1d" stroke-width="1.15" stroke-linejoin="round"/>
<path d="M1025.6,181.2 C1025.5,195.4 1025.08,210.95 1025.3,223.8 C1025.52,236.65 1025.87,246.85 1026.9,258.3 C1027.93,269.75 1029.75,282.05 1031.5,292.5 C1033.25,302.95 1035.15,314.58 1037.4,321 C1039.65,327.42 1042.07,328.67 1045,331 C1047.93,333.33 1050.1,335.95 1055,335 C1059.9,334.05 1068.67,330.7 1074.4,325.3 C1080.13,319.9 1084.97,309.32 1089.4,302.6 C1093.83,295.88 1096.47,292.57 1101,285 C1105.53,277.43 1111.82,266.05 1116.6,257.2 C1121.38,248.35 1125.33,240.33 1129.7,231.9" fill="none" stroke="#1e1c1d" stroke-width="1.15" stroke-linejoin="round"/>
<path d="M1059.8,194.5 C1059.4,204.3 1058.73,215.33 1058.6,223.9 C1058.47,232.47 1058.47,239.63 1059,245.9 C1059.53,252.17 1060.7,257.97 1061.8,261.5 C1062.9,265.03 1063.75,265.8 1065.6,267.1 C1067.45,268.4 1069.85,270.4 1072.9,269.3 C1075.95,268.2 1079.62,265.13 1083.9,260.5 C1088.18,255.87 1093.93,248 1098.6,241.5 C1103.27,235 1107.47,228.17 1111.9,221.5" fill="none" stroke="#1e1c1d" stroke-width="1.15" stroke-linejoin="round"/>
<path d="M1144.6,315.4 C1139.73,321.03 1134.7,327.35 1130,332.3 C1125.3,337.25 1121.2,341.05 1116.4,345.1 C1111.6,349.15 1106.27,352.77 1101.2,356.6" fill="none" stroke="#1e1c1d" stroke-width="1.15" stroke-linejoin="round"/>
<text x="876" y="144.5" font-size="10" text-anchor="start" font-weight="normal" >60</text>
<text x="926.5" y="151.2" font-size="10" text-anchor="start" font-weight="normal" >68</text>
<text x="980.5" y="162.6" font-size="10" text-anchor="start" font-weight="normal" >73</text>
<text x="1021.2" y="175.2" font-size="10" text-anchor="start" font-weight="normal" >76</text>
<text x="1056.4" y="187.4" font-size="10" text-anchor="start" font-weight="normal" >78</text>
<text x="1141.7" y="309.7" font-size="10" text-anchor="start" font-weight="normal" >73</text>
<text x="744.6" y="141.7" font-size="10.2" text-anchor="start" font-weight="bold" letter-spacing="0.35">125-200/750</text>
<text x="744.6" y="216.8" font-size="10.2" text-anchor="start" font-weight="bold" letter-spacing="0.35">125-200/550</text>
<text x="744.6" y="288.2" font-size="10.2" text-anchor="start" font-weight="bold" letter-spacing="0.35">125-200/450</text>
<text x="1119.8" y="255.9" font-size="10.2" text-anchor="start" font-weight="bold" letter-spacing="0.1">181mm</text>
<text x="1119.8" y="334" font-size="10.2" text-anchor="start" font-weight="bold" letter-spacing="0.1">170mm</text>
<text x="1119.8" y="402.7" font-size="10.2" text-anchor="start" font-weight="bold" letter-spacing="0.1">158mm</text>
<path d="M224.2,518.2 C226.36,517.78 228.52,517.36 230.68,516.95 C232.84,516.53 235,516.12 237.16,515.7 C239.32,515.29 241.48,514.87 243.64,514.46 C245.8,514.04 247.96,513.63 250.12,513.22 C252.28,512.81 254.44,512.4 256.6,511.99 C258.76,511.58 260.92,511.17 263.08,510.76 C265.24,510.36 267.4,509.95 269.56,509.54 C271.72,509.14 273.88,508.74 276.04,508.33 C278.2,507.93 280.36,507.53 282.52,507.13 C284.68,506.73 286.84,506.33 288.99,505.94 C291.15,505.54 293.31,505.15 295.47,504.76 C297.63,504.36 299.79,503.97 301.95,503.58 C304.11,503.2 306.27,502.81 308.43,502.42 C310.59,502.04 312.75,501.66 314.91,501.28 C317.07,500.9 319.23,500.52 321.39,500.14 C323.55,499.77 325.71,499.39 327.87,499.02 C330.03,498.65 332.19,498.28 334.35,497.92 C336.51,497.55 338.67,497.19 340.83,496.83 C342.99,496.47 345.15,496.11 347.31,495.75 C349.47,495.4 351.63,495.05 353.79,494.7 C355.95,494.35 358.11,494 360.27,493.66 C362.43,493.32 364.59,492.98 366.75,492.64 C368.91,492.3 371.07,491.97 373.23,491.64 C375.39,491.31 377.55,490.98 379.71,490.66 C381.87,490.33 384.03,490.01 386.19,489.7 C388.35,489.38 390.51,489.07 392.67,488.76 C394.83,488.45 396.99,488.14 399.15,487.84 C401.31,487.54 403.47,487.24 405.63,486.95 C407.79,486.65 409.95,486.36 412.11,486.08 C414.26,485.79 416.42,485.51 418.58,485.23 C420.74,484.96 422.9,484.68 425.06,484.41 C427.22,484.14 429.38,483.88 431.54,483.62 C433.7,483.36 435.86,483.1 438.02,482.85 C440.18,482.6 442.34,482.35 444.5,482.11 C446.66,481.87 448.82,481.63 450.98,481.4 C453.14,481.17 455.3,480.94 457.46,480.72 C459.62,480.5 461.78,480.28 463.94,480.07 C466.1,479.86 468.26,479.65 470.42,479.45 C472.58,479.24 474.74,479.05 476.9,478.86" fill="none" stroke="#1e1c1d" stroke-width="1.7" stroke-linejoin="round"/>
<path d="M224.2,526.82 C226.36,526.47 228.52,526.12 230.68,525.77 C232.84,525.42 235,525.07 237.16,524.72 C239.32,524.37 241.48,524.02 243.64,523.67 C245.8,523.33 247.96,522.98 250.12,522.63 C252.28,522.29 254.44,521.94 256.6,521.6 C258.76,521.25 260.92,520.91 263.08,520.57 C265.24,520.23 267.4,519.88 269.56,519.54 C271.72,519.2 273.88,518.86 276.04,518.53 C278.2,518.19 280.36,517.85 282.52,517.52 C284.68,517.18 286.84,516.85 288.99,516.51 C291.15,516.18 293.31,515.85 295.47,515.52 C297.63,515.19 299.79,514.86 301.95,514.53 C304.11,514.2 306.27,513.87 308.43,513.55 C310.59,513.22 312.75,512.9 314.91,512.58 C317.07,512.26 319.23,511.94 321.39,511.62 C323.55,511.3 325.71,510.98 327.87,510.66 C330.03,510.35 332.19,510.04 334.35,509.72 C336.51,509.41 338.67,509.1 340.83,508.79 C342.99,508.48 345.15,508.18 347.31,507.87 C349.47,507.57 351.63,507.27 353.79,506.97 C355.95,506.66 358.11,506.37 360.27,506.07 C362.43,505.77 364.59,505.48 366.75,505.19 C368.91,504.89 371.07,504.6 373.23,504.31 C375.39,504.03 377.55,503.74 379.71,503.46 C381.87,503.17 384.03,502.89 386.19,502.61 C388.35,502.33 390.51,502.06 392.67,501.78 C394.83,501.51 396.99,501.24 399.15,500.97 C401.31,500.7 403.47,500.43 405.63,500.17 C407.79,499.9 409.95,499.64 412.11,499.38 C414.26,499.12 416.42,498.87 418.58,498.61 C420.74,498.36 422.9,498.11 425.06,497.86 C427.22,497.61 429.38,497.37 431.54,497.13 C433.7,496.88 435.86,496.64 438.02,496.41 C440.18,496.17 442.34,495.94 444.5,495.71 C446.66,495.47 448.82,495.25 450.98,495.02 C453.14,494.8 455.3,494.58 457.46,494.36 C459.62,494.14 461.78,493.92 463.94,493.71 C466.1,493.5 468.26,493.29 470.42,493.09 C472.58,492.88 474.74,492.68 476.9,492.48" fill="none" stroke="#1e1c1d" stroke-width="1.7" stroke-linejoin="round"/>
<path d="M224.2,530.97 C226.36,530.61 228.52,530.25 230.68,529.9 C232.84,529.54 235,529.19 237.16,528.84 C239.32,528.49 241.48,528.14 243.64,527.8 C245.8,527.45 247.96,527.11 250.12,526.77 C252.28,526.43 254.44,526.09 256.6,525.75 C258.76,525.42 260.92,525.08 263.08,524.75 C265.24,524.42 267.4,524.09 269.56,523.76 C271.72,523.44 273.88,523.11 276.04,522.79 C278.2,522.47 280.36,522.15 282.52,521.83 C284.68,521.52 286.84,521.2 288.99,520.89 C291.15,520.57 293.31,520.26 295.47,519.96 C297.63,519.65 299.79,519.34 301.95,519.04 C304.11,518.74 306.27,518.44 308.43,518.14 C310.59,517.84 312.75,517.54 314.91,517.25 C317.07,516.95 319.23,516.66 321.39,516.37 C323.55,516.08 325.71,515.8 327.87,515.51 C330.03,515.23 332.19,514.95 334.35,514.67 C336.51,514.39 338.67,514.11 340.83,513.84 C342.99,513.56 345.15,513.29 347.31,513.02 C349.47,512.75 351.63,512.48 353.79,512.21 C355.95,511.95 358.11,511.69 360.27,511.43 C362.43,511.16 364.59,510.91 366.75,510.65 C368.91,510.39 371.07,510.14 373.23,509.89 C375.39,509.64 377.55,509.39 379.71,509.14 C381.87,508.9 384.03,508.65 386.19,508.41 C388.35,508.17 390.51,507.93 392.67,507.7 C394.83,507.46 396.99,507.22 399.15,506.99 C401.31,506.76 403.47,506.53 405.63,506.3 C407.79,506.08 409.95,505.85 412.11,505.63 C414.26,505.41 416.42,505.19 418.58,504.97 C420.74,504.75 422.9,504.54 425.06,504.33 C427.22,504.11 429.38,503.9 431.54,503.7 C433.7,503.49 435.86,503.28 438.02,503.08 C440.18,502.88 442.34,502.68 444.5,502.48 C446.66,502.28 448.82,502.08 450.98,501.89 C453.14,501.7 455.3,501.51 457.46,501.32 C459.62,501.13 461.78,500.95 463.94,500.76 C466.1,500.58 468.26,500.4 470.42,500.22 C472.58,500.04 474.74,499.87 476.9,499.69" fill="none" stroke="#1e1c1d" stroke-width="1.7" stroke-linejoin="round"/>
<path d="M224.2,538.01 C226.36,537.74 228.52,537.47 230.68,537.2 C232.84,536.93 235,536.66 237.16,536.39 C239.32,536.12 241.48,535.85 243.64,535.58 C245.8,535.31 247.96,535.03 250.12,534.76 C252.28,534.49 254.44,534.21 256.6,533.94 C258.76,533.67 260.92,533.39 263.08,533.12 C265.24,532.84 267.4,532.57 269.56,532.3 C271.72,532.02 273.88,531.75 276.04,531.48 C278.2,531.2 280.36,530.93 282.52,530.66 C284.68,530.39 286.84,530.12 288.99,529.85 C291.15,529.58 293.31,529.31 295.47,529.04 C297.63,528.77 299.79,528.5 301.95,528.23 C304.11,527.97 306.27,527.7 308.43,527.44 C310.59,527.17 312.75,526.91 314.91,526.65 C317.07,526.39 319.23,526.13 321.39,525.87 C323.55,525.61 325.71,525.36 327.87,525.1 C330.03,524.85 332.19,524.6 334.35,524.35 C336.51,524.1 338.67,523.85 340.83,523.6 C342.99,523.36 345.15,523.12 347.31,522.88 C349.47,522.64 351.63,522.4 353.79,522.16 C355.95,521.93 358.11,521.69 360.27,521.47 C362.43,521.24 364.59,521.01 366.75,520.79 C368.91,520.56 371.07,520.34 373.23,520.12 C375.39,519.91 377.55,519.69 379.71,519.48 C381.87,519.27 384.03,519.07 386.19,518.86 C388.35,518.66 390.51,518.46 392.67,518.27 C394.83,518.07 396.99,517.88 399.15,517.69 C401.31,517.51 403.47,517.32 405.63,517.14 C407.79,516.97 409.95,516.79 412.11,516.62 C414.26,516.45 416.42,516.29 418.58,516.12 C420.74,515.96 422.9,515.81 425.06,515.66 C427.22,515.51 429.38,515.36 431.54,515.22 C433.7,515.08 435.86,514.94 438.02,514.81 C440.18,514.68 442.34,514.55 444.5,514.43 C446.66,514.31 448.82,514.2 450.98,514.09 C453.14,513.98 455.3,513.88 457.46,513.78 C459.62,513.68 461.78,513.59 463.94,513.5 C466.1,513.42 468.26,513.34 470.42,513.26 C472.58,513.19 474.74,513.13 476.9,513.06" fill="none" stroke="#1e1c1d" stroke-width="1.7" stroke-linejoin="round"/>
<path d="M224.2,544.89 C226.36,544.68 228.52,544.47 230.68,544.27 C232.84,544.06 235,543.85 237.16,543.65 C239.32,543.44 241.48,543.24 243.64,543.04 C245.8,542.83 247.96,542.63 250.12,542.43 C252.28,542.23 254.44,542.03 256.6,541.83 C258.76,541.63 260.92,541.43 263.08,541.23 C265.24,541.03 267.4,540.83 269.56,540.63 C271.72,540.44 273.88,540.24 276.04,540.04 C278.2,539.85 280.36,539.65 282.52,539.46 C284.68,539.27 286.84,539.07 288.99,538.88 C291.15,538.69 293.31,538.5 295.47,538.31 C297.63,538.12 299.79,537.93 301.95,537.75 C304.11,537.56 306.27,537.37 308.43,537.19 C310.59,537 312.75,536.82 314.91,536.63 C317.07,536.45 319.23,536.27 321.39,536.09 C323.55,535.9 325.71,535.72 327.87,535.55 C330.03,535.37 332.19,535.19 334.35,535.01 C336.51,534.84 338.67,534.66 340.83,534.49 C342.99,534.31 345.15,534.14 347.31,533.97 C349.47,533.8 351.63,533.63 353.79,533.46 C355.95,533.29 358.11,533.12 360.27,532.96 C362.43,532.79 364.59,532.63 366.75,532.46 C368.91,532.3 371.07,532.14 373.23,531.98 C375.39,531.82 377.55,531.66 379.71,531.5 C381.87,531.35 384.03,531.19 386.19,531.04 C388.35,530.88 390.51,530.73 392.67,530.58 C394.83,530.43 396.99,530.28 399.15,530.13 C401.31,529.98 403.47,529.83 405.63,529.69 C407.79,529.54 409.95,529.4 412.11,529.26 C414.26,529.12 416.42,528.98 418.58,528.84 C420.74,528.7 422.9,528.56 425.06,528.43 C427.22,528.29 429.38,528.16 431.54,528.03 C433.7,527.9 435.86,527.77 438.02,527.64 C440.18,527.51 442.34,527.39 444.5,527.27 C446.66,527.14 448.82,527.02 450.98,526.9 C453.14,526.78 455.3,526.66 457.46,526.54 C459.62,526.43 461.78,526.31 463.94,526.2 C466.1,526.09 468.26,525.98 470.42,525.87 C472.58,525.76 474.74,525.66 476.9,525.55" fill="none" stroke="#1e1c1d" stroke-width="1.7" stroke-linejoin="round"/>
<text x="479.8" y="484.9" font-size="10.2" text-anchor="start" font-weight="bold" letter-spacing="0.1">272mm</text>
<text x="479.8" y="496.3" font-size="10.2" text-anchor="start" font-weight="bold" letter-spacing="0.1">261mm</text>
<text x="479.8" y="505.3" font-size="10.2" text-anchor="start" font-weight="bold" letter-spacing="0.1">249mm</text>
<text x="479.8" y="517.2" font-size="10.2" text-anchor="start" font-weight="bold" letter-spacing="0.1">232mm</text>
<text x="479.8" y="532.3" font-size="10.2" text-anchor="start" font-weight="bold" letter-spacing="0.1">212mm</text>
<path d="M863.6,530.06 C866.12,529.52 868.65,528.98 871.17,528.46 C873.7,527.93 876.22,527.42 878.74,526.91 C881.27,526.4 883.79,525.9 886.32,525.4 C888.84,524.91 891.36,524.42 893.89,523.94 C896.41,523.46 898.94,522.99 901.46,522.52 C903.98,522.06 906.51,521.6 909.03,521.15 C911.55,520.69 914.08,520.25 916.6,519.81 C919.13,519.37 921.65,518.94 924.17,518.51 C926.7,518.09 929.22,517.67 931.75,517.26 C934.27,516.85 936.79,516.44 939.32,516.04 C941.84,515.64 944.37,515.25 946.89,514.86 C949.41,514.47 951.94,514.09 954.46,513.71 C956.99,513.34 959.51,512.96 962.03,512.6 C964.56,512.24 967.08,511.88 969.61,511.52 C972.13,511.17 974.65,510.82 977.18,510.48 C979.7,510.14 982.22,509.8 984.75,509.47 C987.27,509.13 989.8,508.81 992.32,508.48 C994.84,508.16 997.37,507.85 999.89,507.53 C1002.42,507.22 1004.94,506.91 1007.46,506.61 C1009.99,506.31 1012.51,506.01 1015.04,505.71 C1017.56,505.42 1020.08,505.13 1022.61,504.85 C1025.13,504.56 1027.66,504.28 1030.18,504 C1032.7,503.73 1035.23,503.45 1037.75,503.19 C1040.28,502.92 1042.8,502.65 1045.32,502.39 C1047.85,502.13 1050.37,501.87 1052.89,501.62 C1055.42,501.37 1057.94,501.12 1060.47,500.87 C1062.99,500.62 1065.51,500.38 1068.04,500.14 C1070.56,499.9 1073.09,499.67 1075.61,499.43 C1078.13,499.2 1080.66,498.97 1083.18,498.74 C1085.71,498.51 1088.23,498.29 1090.75,498.07 C1093.28,497.85 1095.8,497.63 1098.33,497.41 C1100.85,497.2 1103.37,496.98 1105.9,496.77 C1108.42,496.56 1110.95,496.35 1113.47,496.15 C1115.99,495.94 1118.52,495.74 1121.04,495.53 C1123.56,495.33 1126.09,495.13 1128.61,494.93 C1131.14,494.74 1133.66,494.54 1136.18,494.35 C1138.71,494.15 1141.23,493.96 1143.76,493.77 C1146.28,493.58 1148.8,493.39 1151.33,493.2 C1153.85,493.01 1156.38,492.83 1158.9,492.64" fill="none" stroke="#1e1c1d" stroke-width="1.7" stroke-linejoin="round"/>
<path d="M863.6,537.56 C866.12,537.22 868.65,536.88 871.17,536.53 C873.7,536.19 876.22,535.84 878.74,535.5 C881.27,535.15 883.79,534.8 886.32,534.45 C888.84,534.1 891.36,533.75 893.89,533.4 C896.41,533.05 898.94,532.7 901.46,532.35 C903.98,531.99 906.51,531.64 909.03,531.29 C911.55,530.93 914.08,530.58 916.6,530.23 C919.13,529.88 921.65,529.52 924.17,529.17 C926.7,528.82 929.22,528.47 931.75,528.12 C934.27,527.77 936.79,527.42 939.32,527.07 C941.84,526.72 944.37,526.38 946.89,526.03 C949.41,525.69 951.94,525.34 954.46,525 C956.99,524.66 959.51,524.32 962.03,523.98 C964.56,523.65 967.08,523.31 969.61,522.98 C972.13,522.65 974.65,522.32 977.18,521.99 C979.7,521.66 982.22,521.34 984.75,521.02 C987.27,520.7 989.8,520.38 992.32,520.07 C994.84,519.75 997.37,519.44 999.89,519.14 C1002.42,518.83 1004.94,518.53 1007.46,518.23 C1009.99,517.93 1012.51,517.64 1015.04,517.35 C1017.56,517.06 1020.08,516.77 1022.61,516.49 C1025.13,516.21 1027.66,515.94 1030.18,515.67 C1032.7,515.4 1035.23,515.14 1037.75,514.88 C1040.28,514.62 1042.8,514.37 1045.32,514.12 C1047.85,513.87 1050.37,513.63 1052.89,513.4 C1055.42,513.16 1057.94,512.93 1060.47,512.71 C1062.99,512.49 1065.51,512.28 1068.04,512.07 C1070.56,511.86 1073.09,511.66 1075.61,511.46 C1078.13,511.27 1080.66,511.08 1083.18,510.9 C1085.71,510.73 1088.23,510.55 1090.75,510.39 C1093.28,510.23 1095.8,510.07 1098.33,509.92 C1100.85,509.78 1103.37,509.64 1105.9,509.51 C1108.42,509.38 1110.95,509.26 1113.47,509.14 C1115.99,509.03 1118.52,508.93 1121.04,508.83 C1123.56,508.74 1126.09,508.65 1128.61,508.58 C1131.14,508.5 1133.66,508.44 1136.18,508.38 C1138.71,508.32 1141.23,508.28 1143.76,508.24 C1146.28,508.21 1148.8,508.18 1151.33,508.17 C1153.85,508.15 1156.38,508.16 1158.9,508.15" fill="none" stroke="#1e1c1d" stroke-width="1.7" stroke-linejoin="round"/>
<path d="M863.6,543.78 C866.12,543.49 868.65,543.21 871.17,542.93 C873.7,542.64 876.22,542.36 878.74,542.08 C881.27,541.8 883.79,541.52 886.32,541.24 C888.84,540.96 891.36,540.69 893.89,540.41 C896.41,540.13 898.94,539.86 901.46,539.59 C903.98,539.31 906.51,539.04 909.03,538.77 C911.55,538.5 914.08,538.23 916.6,537.96 C919.13,537.69 921.65,537.43 924.17,537.16 C926.7,536.9 929.22,536.64 931.75,536.38 C934.27,536.12 936.79,535.86 939.32,535.6 C941.84,535.35 944.37,535.09 946.89,534.84 C949.41,534.59 951.94,534.34 954.46,534.09 C956.99,533.84 959.51,533.6 962.03,533.35 C964.56,533.11 967.08,532.87 969.61,532.63 C972.13,532.39 974.65,532.16 977.18,531.92 C979.7,531.69 982.22,531.46 984.75,531.23 C987.27,531.01 989.8,530.78 992.32,530.56 C994.84,530.34 997.37,530.12 999.89,529.9 C1002.42,529.69 1004.94,529.48 1007.46,529.27 C1009.99,529.06 1012.51,528.85 1015.04,528.65 C1017.56,528.45 1020.08,528.25 1022.61,528.05 C1025.13,527.86 1027.66,527.67 1030.18,527.48 C1032.7,527.29 1035.23,527.1 1037.75,526.92 C1040.28,526.74 1042.8,526.56 1045.32,526.39 C1047.85,526.22 1050.37,526.05 1052.89,525.88 C1055.42,525.72 1057.94,525.55 1060.47,525.4 C1062.99,525.24 1065.51,525.09 1068.04,524.94 C1070.56,524.79 1073.09,524.64 1075.61,524.5 C1078.13,524.36 1080.66,524.23 1083.18,524.1 C1085.71,523.96 1088.23,523.84 1090.75,523.72 C1093.28,523.59 1095.8,523.48 1098.33,523.36 C1100.85,523.25 1103.37,523.14 1105.9,523.04 C1108.42,522.94 1110.95,522.84 1113.47,522.75 C1115.99,522.66 1118.52,522.57 1121.04,522.49 C1123.56,522.4 1126.09,522.33 1128.61,522.25 C1131.14,522.18 1133.66,522.12 1136.18,522.05 C1138.71,521.99 1141.23,521.94 1143.76,521.89 C1146.28,521.84 1148.8,521.79 1151.33,521.76 C1153.85,521.72 1156.38,521.69 1158.9,521.66" fill="none" stroke="#1e1c1d" stroke-width="1.7" stroke-linejoin="round"/>
<text x="1119.2" y="491.7" font-size="10.2" text-anchor="start" font-weight="bold" letter-spacing="0.1">181mm</text>
<text x="1119.2" y="507.6" font-size="10.2" text-anchor="start" font-weight="bold" letter-spacing="0.1">170mm</text>
<text x="1119.2" y="520.4" font-size="10.2" text-anchor="start" font-weight="bold" letter-spacing="0.1">158mm</text>
<path d="M224.2,652.34 C226.36,652.23 228.52,652.12 230.68,652.01 C232.84,651.9 235,651.79 237.16,651.67 C239.32,651.56 241.49,651.44 243.65,651.32 C245.81,651.2 247.97,651.08 250.13,650.96 C252.29,650.83 254.45,650.7 256.61,650.57 C258.77,650.44 260.93,650.3 263.09,650.16 C265.25,650.02 267.41,649.88 269.57,649.73 C271.74,649.58 273.9,649.43 276.06,649.27 C278.22,649.11 280.38,648.95 282.54,648.78 C284.7,648.61 286.86,648.44 289.02,648.26 C291.18,648.07 293.34,647.89 295.5,647.69 C297.66,647.5 299.82,647.3 301.98,647.09 C304.15,646.88 306.31,646.67 308.47,646.44 C310.63,646.22 312.79,645.99 314.95,645.75 C317.11,645.51 319.27,645.26 321.43,645.01 C323.59,644.75 325.75,644.49 327.91,644.21 C330.07,643.94 332.23,643.65 334.39,643.36 C336.56,643.06 338.72,642.76 340.88,642.45 C343.04,642.13 345.2,641.81 347.36,641.47 C349.52,641.14 351.68,640.79 353.84,640.44 C356,640.08 358.16,639.71 360.32,639.33 C362.48,638.95 364.64,638.56 366.81,638.15 C368.97,637.75 371.13,637.33 373.29,636.9 C375.45,636.47 377.61,636.03 379.77,635.57 C381.93,635.11 384.09,634.64 386.25,634.16 C388.41,633.68 390.57,633.18 392.73,632.67 C394.89,632.15 397.05,631.63 399.22,631.09 C401.38,630.54 403.54,629.99 405.7,629.41 C407.86,628.84 410.02,628.25 412.18,627.65 C414.34,627.05 416.5,626.43 418.66,625.79 C420.82,625.15 422.98,624.5 425.14,623.83 C427.3,623.16 429.46,622.47 431.63,621.77 C433.79,621.07 435.95,620.34 438.11,619.6 C440.27,618.86 442.43,618.1 444.59,617.33 C446.75,616.55 448.91,615.76 451.07,614.94 C453.23,614.13 455.39,613.29 457.55,612.44 C459.71,611.59 461.88,610.71 464.04,609.82 C466.2,608.93 468.36,608.01 470.52,607.08 C472.68,606.15 474.84,605.17 477,604.22" fill="none" stroke="#1e1c1d" stroke-width="1.7" stroke-linejoin="round"/>
<path d="M863.6,647.53 C866.12,647.43 868.65,647.34 871.17,647.24 C873.7,647.14 876.22,647.04 878.74,646.94 C881.27,646.84 883.79,646.73 886.32,646.62 C888.84,646.52 891.36,646.41 893.89,646.29 C896.41,646.18 898.94,646.06 901.46,645.94 C903.98,645.82 906.51,645.7 909.03,645.57 C911.55,645.44 914.08,645.31 916.6,645.17 C919.13,645.03 921.65,644.89 924.17,644.74 C926.7,644.59 929.22,644.44 931.75,644.28 C934.27,644.12 936.79,643.95 939.32,643.78 C941.84,643.61 944.37,643.43 946.89,643.24 C949.41,643.05 951.94,642.86 954.46,642.66 C956.99,642.46 959.51,642.25 962.03,642.03 C964.56,641.81 967.08,641.59 969.61,641.35 C972.13,641.12 974.65,640.88 977.18,640.62 C979.7,640.37 982.22,640.11 984.75,639.83 C987.27,639.56 989.8,639.28 992.32,638.99 C994.84,638.69 997.37,638.39 999.89,638.08 C1002.42,637.76 1004.94,637.44 1007.46,637.1 C1009.99,636.76 1012.51,636.41 1015.04,636.05 C1017.56,635.69 1020.08,635.32 1022.61,634.93 C1025.13,634.54 1027.66,634.15 1030.18,633.73 C1032.7,633.32 1035.23,632.9 1037.75,632.46 C1040.28,632.02 1042.8,631.56 1045.32,631.1 C1047.85,630.63 1050.37,630.15 1052.89,629.65 C1055.42,629.15 1057.94,628.64 1060.47,628.11 C1062.99,627.58 1065.51,627.04 1068.04,626.48 C1070.56,625.92 1073.09,625.35 1075.61,624.75 C1078.13,624.16 1080.66,623.55 1083.18,622.93 C1085.71,622.3 1088.23,621.66 1090.75,621 C1093.28,620.34 1095.8,619.66 1098.33,618.96 C1100.85,618.26 1103.37,617.55 1105.9,616.81 C1108.42,616.08 1110.95,615.33 1113.47,614.55 C1115.99,613.78 1118.52,612.99 1121.04,612.18 C1123.56,611.36 1126.09,610.53 1128.61,609.68 C1131.14,608.83 1133.66,607.95 1136.18,607.06 C1138.71,606.16 1141.23,605.25 1143.76,604.31 C1146.28,603.37 1148.8,602.42 1151.33,601.43 C1153.85,600.45 1156.38,599.43 1158.9,598.42" fill="none" stroke="#1e1c1d" stroke-width="1.7" stroke-linejoin="round"/>
</svg>
</body></html>
